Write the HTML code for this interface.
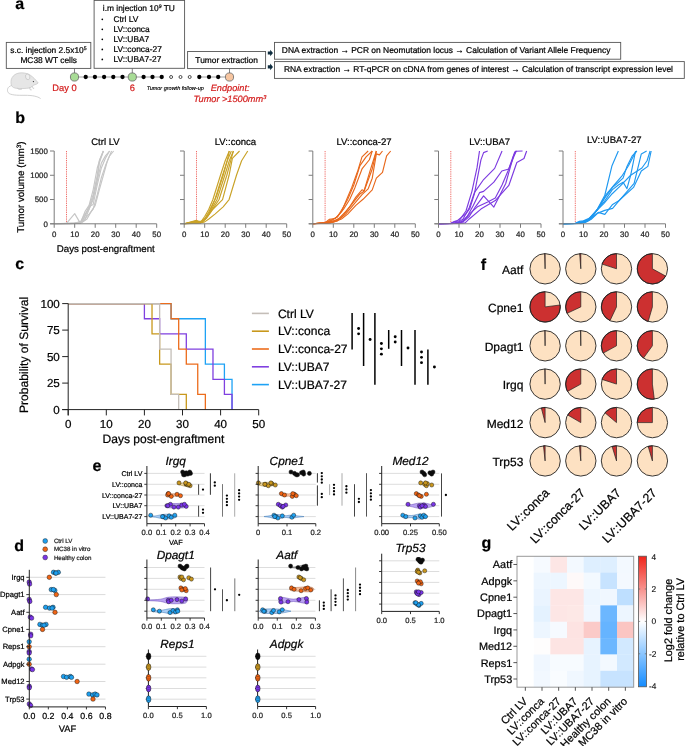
<!DOCTYPE html>
<html><head><meta charset="utf-8"><style>
html,body{margin:0;padding:0;background:#fff;width:685px;height:746px;overflow:hidden}
svg{display:block;will-change:transform}
text{font-family:"Liberation Sans", sans-serif;stroke-width:0.22px;stroke-linejoin:round;text-rendering:geometricPrecision}
</style></head><body>
<svg width="685" height="746" viewBox="0 0 685 746" font-family='"Liberation Sans", sans-serif' stroke="#000">
<text x="15.30" y="9.20" font-size="16" font-weight="bold" fill="#000" stroke="#000">a</text>
<rect x="6.30" y="42.40" width="84.50" height="26.00" fill="none" stroke="#555" stroke-width="0.9"/>
<text x="10.2" y="53" font-size="8.4">s.c. injection 2.5x10<tspan font-size="5.2" dy="-3.3">5</tspan></text>
<text x="48.70" y="62.80" font-size="8.4" text-anchor="middle" fill="#000" stroke="#000">MC38 WT cells</text>
<rect x="94.10" y="0.40" width="90.50" height="67.90" fill="none" stroke="#555" stroke-width="0.9"/>
<text x="102.8" y="11.4" font-size="8.4">i.m injection 10<tspan font-size="5.2" dy="-3.3">9</tspan><tspan dy="3.3"> TU</tspan></text>
<circle cx="102.30" cy="19.30" r="0.85" fill="#000" stroke="none" stroke-width="1"/>
<text x="113.40" y="21.90" font-size="8.4" fill="#000" stroke="#000">Ctrl LV</text>
<circle cx="102.30" cy="29.33" r="0.85" fill="#000" stroke="none" stroke-width="1"/>
<text x="113.40" y="31.93" font-size="8.4" fill="#000" stroke="#000">LV::conca</text>
<circle cx="102.30" cy="39.36" r="0.85" fill="#000" stroke="none" stroke-width="1"/>
<text x="113.40" y="41.96" font-size="8.4" fill="#000" stroke="#000">LV::UBA7</text>
<circle cx="102.30" cy="49.39" r="0.85" fill="#000" stroke="none" stroke-width="1"/>
<text x="113.40" y="51.99" font-size="8.4" fill="#000" stroke="#000">LV::conca-27</text>
<circle cx="102.30" cy="59.42" r="0.85" fill="#000" stroke="none" stroke-width="1"/>
<text x="113.40" y="62.02" font-size="8.4" fill="#000" stroke="#000">LV::UBA7-27</text>
<rect x="187.60" y="51.50" width="78.00" height="17.10" fill="none" stroke="#555" stroke-width="0.9"/>
<text x="226.60" y="62.60" font-size="8.4" text-anchor="middle" fill="#000" stroke="#000">Tumor extraction</text>
<path d="M267.8,51.4 L270.2,51.4 L270.2,49.7 L273,53.0 L270.2,56.3 L270.2,54.6 L267.8,54.6 Z" fill="#0e2c3e" stroke="none" stroke-width="1"/>
<path d="M267.8,65.30000000000001 L270.2,65.30000000000001 L270.2,63.60000000000001 L273,66.9 L270.2,70.2 L270.2,68.5 L267.8,68.5 Z" fill="#0e2c3e" stroke="none" stroke-width="1"/>
<rect x="274.50" y="42.40" width="346.20" height="16.80" fill="none" stroke="#555" stroke-width="0.9"/>
<text x="281.80" y="53.10" font-size="8.45" fill="#000" stroke="#000">DNA extraction → PCR on Neomutation locus → Calculation of Variant Allele Frequency</text>
<rect x="274.50" y="61.60" width="409.80" height="16.80" fill="none" stroke="#555" stroke-width="0.9"/>
<text x="283.90" y="71.70" font-size="8.45" fill="#000" stroke="#000">RNA extraction → RT-qPCR on cDNA from genes of interest → Calculation of transcript expression level</text>
<line x1="74.50" y1="77.00" x2="161.70" y2="77.00" stroke="#888" stroke-width="0.8"/>
<line x1="199.30" y1="77.00" x2="229.50" y2="77.00" stroke="#888" stroke-width="0.8"/>
<line x1="74.50" y1="68.30" x2="74.50" y2="77.00" stroke="#666" stroke-width="0.8"/>
<line x1="132.30" y1="68.30" x2="132.30" y2="77.00" stroke="#666" stroke-width="0.8"/>
<line x1="229.50" y1="68.60" x2="229.50" y2="77.00" stroke="#666" stroke-width="0.8"/>
<circle cx="85.70" cy="77.00" r="2.15" fill="#000" stroke="none" stroke-width="1"/>
<circle cx="94.90" cy="77.00" r="2.15" fill="#000" stroke="none" stroke-width="1"/>
<circle cx="104.10" cy="77.00" r="2.15" fill="#000" stroke="none" stroke-width="1"/>
<circle cx="113.30" cy="77.00" r="2.15" fill="#000" stroke="none" stroke-width="1"/>
<circle cx="122.50" cy="77.00" r="2.15" fill="#000" stroke="none" stroke-width="1"/>
<circle cx="143.60" cy="77.00" r="2.15" fill="#000" stroke="none" stroke-width="1"/>
<circle cx="152.50" cy="77.00" r="2.15" fill="#000" stroke="none" stroke-width="1"/>
<circle cx="161.70" cy="77.00" r="2.15" fill="#000" stroke="none" stroke-width="1"/>
<circle cx="199.30" cy="77.00" r="2.15" fill="#000" stroke="none" stroke-width="1"/>
<circle cx="209.00" cy="77.00" r="2.15" fill="#000" stroke="none" stroke-width="1"/>
<circle cx="218.20" cy="77.00" r="2.15" fill="#000" stroke="none" stroke-width="1"/>
<circle cx="171.10" cy="77.00" r="1.5" fill="#fff" stroke="#222" stroke-width="0.8"/>
<circle cx="180.50" cy="77.00" r="1.5" fill="#fff" stroke="#222" stroke-width="0.8"/>
<circle cx="189.70" cy="77.00" r="1.5" fill="#fff" stroke="#222" stroke-width="0.8"/>
<circle cx="74.50" cy="77.00" r="4.1" fill="#a8dc96" stroke="#666" stroke-width="0.8"/>
<circle cx="132.30" cy="77.00" r="4.1" fill="#a8dc96" stroke="#666" stroke-width="0.8"/>
<circle cx="229.50" cy="77.00" r="4.1" fill="#f6c5a0" stroke="#666" stroke-width="0.8"/>
<text x="64.50" y="91.30" font-size="9.3" text-anchor="middle" fill="#d42020" stroke="#d42020">Day 0</text>
<text x="132.40" y="91.30" font-size="9.3" text-anchor="middle" fill="#d42020" stroke="#d42020">6</text>
<text x="146.70" y="90.10" font-size="5.5" font-style="italic" fill="#000" stroke="#000" style="stroke-width:0.15px">Tumor growth follow-up</text>
<text x="210.70" y="91.40" font-size="9.2" font-style="italic" fill="#d42020" stroke="#d42020">Endpoint:</text>
<text x="193.6" y="102.2" font-size="9.2" font-style="italic" fill="#d42020" stroke="#d42020">Tumor &gt;1500mm<tspan font-size="5.6" dy="-3.5">3</tspan></text>
<g fill="#e6e6e6" stroke="#b4b4b4" stroke-width="0.5">
<path d="M11.6,85.6 C7.5,86.5 6.6,90.2 8.2,92.6 C10,95.2 17,95.4 25,95.3 C32,95.3 37.5,96.2 40.6,98.6" fill="none" stroke="#c4c4c4" stroke-width="0.8"/>
<path d="M11,83.5 C10.3,77.5 14.5,72.8 21.5,72.8 C26,72.8 28.5,74 30.5,75.3 C33,77 36,80 38.2,83 C36.8,84.3 34.8,84.8 33.2,85.3 C32.2,86.6 31.2,87.4 30,87.9 C26,88.6 20,88.8 15.5,88.2 C12.6,87.7 11.2,86 11,83.5 Z"/>
<ellipse cx="27.7" cy="76.8" rx="2.1" ry="2.9" fill="#efefef" transform="rotate(-15 27.7 76.8)"/>
<circle cx="33.4" cy="81.6" r="0.65" fill="#333" stroke="none"/>
<path d="M29.6,87.6 L30.4,90 L31.8,89.8 M32.2,86.2 L33,88.4 L34.2,88.2" fill="none" stroke="#aaa" stroke-width="0.5"/>
<path d="M17.5,88.3 C18.5,89.6 20.5,89.8 22,89" fill="none" stroke="#aaa" stroke-width="0.5"/>
</g>
<text x="15.20" y="123.30" font-size="16" font-weight="bold" fill="#000" stroke="#000">b</text>
<line x1="66.50" y1="151.00" x2="66.50" y2="223.80" stroke="#e8302a" stroke-width="0.8" stroke-dasharray="0.9,0.9"/>
<polyline points="54.20,223.80 66.50,223.31 74.70,213.61 79.83,222.34 82.90,219.92 89.05,206.81 93.15,194.68 97.25,175.27 99.30,160.71 103.40,151.00" fill="none" stroke="#c6c6c6" stroke-width="1.15" stroke-linejoin="round"/>
<polyline points="54.20,223.80 68.55,223.56 74.70,223.31 80.85,221.86 84.95,211.67 89.05,205.36 93.15,189.83 97.25,167.99 100.32,158.28 103.40,151.00" fill="none" stroke="#c6c6c6" stroke-width="1.15" stroke-linejoin="round"/>
<polyline points="54.20,223.80 74.70,223.31 80.85,221.37 84.95,214.09 89.05,209.24 93.15,199.53 97.25,180.12 101.35,163.13 105.45,155.85 109.55,151.00" fill="none" stroke="#c6c6c6" stroke-width="1.15" stroke-linejoin="round"/>
<polyline points="54.20,223.80 74.70,223.31 80.85,222.34 84.95,216.52 89.05,206.81 93.15,204.39 97.25,184.97 101.35,167.99 105.45,158.28 109.55,151.00" fill="none" stroke="#c6c6c6" stroke-width="1.15" stroke-linejoin="round"/>
<polyline points="54.20,223.80 78.80,222.83 82.90,220.89 89.05,214.09 93.15,209.24 97.25,194.68 101.35,177.69 105.45,165.56 109.55,155.85 113.65,151.00" fill="none" stroke="#c6c6c6" stroke-width="1.15" stroke-linejoin="round"/>
<polyline points="54.20,223.80 78.80,223.31 82.90,221.86 87.00,218.95 91.10,211.67 95.20,205.36 99.30,189.83 103.40,175.27 107.50,160.71 111.60,151.00" fill="none" stroke="#c6c6c6" stroke-width="1.15" stroke-linejoin="round"/>
<polyline points="54.20,223.80 80.85,223.07 84.95,219.92 89.05,209.24 93.15,197.11 97.25,180.12 99.30,163.13 103.40,151.00" fill="none" stroke="#c6c6c6" stroke-width="1.15" stroke-linejoin="round"/>
<line x1="54.20" y1="151.00" x2="54.20" y2="223.80" stroke="#7c7c7c" stroke-width="1"/>
<line x1="50.20" y1="223.80" x2="156.70" y2="223.80" stroke="#7c7c7c" stroke-width="1"/>
<line x1="50.00" y1="223.80" x2="54.20" y2="223.80" stroke="#7c7c7c" stroke-width="1"/>
<text x="47.90" y="226.60" font-size="7.9" text-anchor="end" fill="#222" stroke="#222">0</text>
<line x1="50.00" y1="199.53" x2="54.20" y2="199.53" stroke="#7c7c7c" stroke-width="1"/>
<text x="47.90" y="202.33" font-size="7.9" text-anchor="end" fill="#222" stroke="#222">500</text>
<line x1="50.00" y1="175.27" x2="54.20" y2="175.27" stroke="#7c7c7c" stroke-width="1"/>
<text x="47.90" y="178.07" font-size="7.9" text-anchor="end" fill="#222" stroke="#222">1000</text>
<line x1="50.00" y1="151.00" x2="54.20" y2="151.00" stroke="#7c7c7c" stroke-width="1"/>
<text x="47.90" y="153.80" font-size="7.9" text-anchor="end" fill="#222" stroke="#222">1500</text>
<line x1="54.20" y1="223.80" x2="54.20" y2="227.80" stroke="#7c7c7c" stroke-width="1"/>
<text x="54.20" y="237.00" font-size="7.9" text-anchor="middle" fill="#222" stroke="#222">0</text>
<line x1="74.70" y1="223.80" x2="74.70" y2="227.80" stroke="#7c7c7c" stroke-width="1"/>
<text x="74.70" y="237.00" font-size="7.9" text-anchor="middle" fill="#222" stroke="#222">10</text>
<line x1="95.20" y1="223.80" x2="95.20" y2="227.80" stroke="#7c7c7c" stroke-width="1"/>
<text x="95.20" y="237.00" font-size="7.9" text-anchor="middle" fill="#222" stroke="#222">20</text>
<line x1="115.70" y1="223.80" x2="115.70" y2="227.80" stroke="#7c7c7c" stroke-width="1"/>
<text x="115.70" y="237.00" font-size="7.9" text-anchor="middle" fill="#222" stroke="#222">30</text>
<line x1="136.20" y1="223.80" x2="136.20" y2="227.80" stroke="#7c7c7c" stroke-width="1"/>
<text x="136.20" y="237.00" font-size="7.9" text-anchor="middle" fill="#222" stroke="#222">40</text>
<line x1="156.70" y1="223.80" x2="156.70" y2="227.80" stroke="#7c7c7c" stroke-width="1"/>
<text x="156.70" y="237.00" font-size="7.9" text-anchor="middle" fill="#222" stroke="#222">50</text>
<text x="105.45" y="144.70" font-size="9.55" text-anchor="middle" fill="#000" stroke="#000">Ctrl LV</text>
<line x1="196.50" y1="151.00" x2="196.50" y2="223.80" stroke="#e8302a" stroke-width="0.8" stroke-dasharray="0.9,0.9"/>
<polyline points="184.20,223.80 196.50,220.40 200.60,222.34 204.70,216.52 208.80,209.24 212.90,199.53 220.48,175.27 225.20,160.71 229.30,151.00" fill="none" stroke="#c9a227" stroke-width="1.15" stroke-linejoin="round"/>
<polyline points="184.20,223.80 196.50,220.89 200.60,222.83 204.70,218.95 208.80,211.67 214.95,199.53 222.53,175.27 227.25,160.71 231.35,151.00" fill="none" stroke="#c9a227" stroke-width="1.15" stroke-linejoin="round"/>
<polyline points="184.20,223.80 196.50,221.86 202.65,221.86 208.80,214.09 217.00,199.53 224.79,175.27 229.30,160.71 233.40,151.00" fill="none" stroke="#c9a227" stroke-width="1.15" stroke-linejoin="round"/>
<polyline points="184.20,223.80 198.55,222.34 204.70,219.92 210.85,211.67 219.05,199.53 226.84,175.27 231.35,158.28 233.40,151.00" fill="none" stroke="#c9a227" stroke-width="1.15" stroke-linejoin="round"/>
<polyline points="184.20,223.80 200.60,222.83 206.75,217.98 212.90,209.24 222.53,199.53 229.09,175.27 232.38,158.28 239.55,151.00" fill="none" stroke="#c9a227" stroke-width="1.15" stroke-linejoin="round"/>
<polyline points="184.20,223.80 200.60,223.07 204.70,221.86 208.80,218.95 214.95,214.09 223.15,206.81 229.09,199.53 236.47,175.27 241.60,160.71 247.75,151.00" fill="none" stroke="#c9a227" stroke-width="1.15" stroke-linejoin="round"/>
<polyline points="184.20,223.80 196.50,221.37 202.65,221.37 208.80,214.09 212.90,204.39 217.00,194.68 223.15,175.27 227.25,160.71 229.30,151.00" fill="none" stroke="#c9a227" stroke-width="1.15" stroke-linejoin="round"/>
<line x1="184.20" y1="151.00" x2="184.20" y2="223.80" stroke="#7c7c7c" stroke-width="1"/>
<line x1="180.20" y1="223.80" x2="286.70" y2="223.80" stroke="#7c7c7c" stroke-width="1"/>
<line x1="180.00" y1="223.80" x2="184.20" y2="223.80" stroke="#7c7c7c" stroke-width="1"/>
<line x1="180.00" y1="199.53" x2="184.20" y2="199.53" stroke="#7c7c7c" stroke-width="1"/>
<line x1="180.00" y1="175.27" x2="184.20" y2="175.27" stroke="#7c7c7c" stroke-width="1"/>
<line x1="180.00" y1="151.00" x2="184.20" y2="151.00" stroke="#7c7c7c" stroke-width="1"/>
<line x1="184.20" y1="223.80" x2="184.20" y2="227.80" stroke="#7c7c7c" stroke-width="1"/>
<text x="184.20" y="237.00" font-size="7.9" text-anchor="middle" fill="#222" stroke="#222">0</text>
<line x1="204.70" y1="223.80" x2="204.70" y2="227.80" stroke="#7c7c7c" stroke-width="1"/>
<text x="204.70" y="237.00" font-size="7.9" text-anchor="middle" fill="#222" stroke="#222">10</text>
<line x1="225.20" y1="223.80" x2="225.20" y2="227.80" stroke="#7c7c7c" stroke-width="1"/>
<text x="225.20" y="237.00" font-size="7.9" text-anchor="middle" fill="#222" stroke="#222">20</text>
<line x1="245.70" y1="223.80" x2="245.70" y2="227.80" stroke="#7c7c7c" stroke-width="1"/>
<text x="245.70" y="237.00" font-size="7.9" text-anchor="middle" fill="#222" stroke="#222">30</text>
<line x1="266.20" y1="223.80" x2="266.20" y2="227.80" stroke="#7c7c7c" stroke-width="1"/>
<text x="266.20" y="237.00" font-size="7.9" text-anchor="middle" fill="#222" stroke="#222">40</text>
<line x1="286.70" y1="223.80" x2="286.70" y2="227.80" stroke="#7c7c7c" stroke-width="1"/>
<text x="286.70" y="237.00" font-size="7.9" text-anchor="middle" fill="#222" stroke="#222">50</text>
<text x="235.45" y="144.70" font-size="9.55" text-anchor="middle" fill="#000" stroke="#000">LV::conca</text>
<line x1="325.10" y1="151.00" x2="325.10" y2="223.80" stroke="#e8302a" stroke-width="0.8" stroke-dasharray="0.9,0.9"/>
<polyline points="312.80,223.80 325.10,222.59 329.20,219.43 335.35,218.46 341.50,211.67 345.60,201.96 351.75,187.40 357.90,170.41 362.00,156.82 368.15,151.00" fill="none" stroke="#e8681c" stroke-width="1.15" stroke-linejoin="round"/>
<polyline points="312.80,223.80 325.10,222.59 331.25,220.89 337.40,216.52 343.55,209.24 349.70,199.53 355.03,187.40 362.00,168.96 369.38,159.74 372.25,151.00" fill="none" stroke="#e8681c" stroke-width="1.15" stroke-linejoin="round"/>
<polyline points="312.80,223.80 325.10,222.83 333.30,221.86 339.45,217.98 345.60,211.67 351.75,204.39 359.95,193.95 364.05,191.28 372.25,168.96 376.35,151.00" fill="none" stroke="#e8681c" stroke-width="1.15" stroke-linejoin="round"/>
<polyline points="312.80,223.80 327.15,222.83 333.30,220.89 339.45,218.95 345.60,214.09 353.80,204.39 362.00,194.68 368.15,188.86 372.25,178.18 376.35,153.91 379.43,154.88 382.50,151.00" fill="none" stroke="#e8681c" stroke-width="1.15" stroke-linejoin="round"/>
<polyline points="312.80,223.80 329.20,222.83 335.35,221.37 341.50,218.95 347.65,214.09 355.85,205.36 363.02,199.29 372.25,189.83 376.35,178.18 382.50,172.35 386.60,155.85 390.70,151.00" fill="none" stroke="#e8681c" stroke-width="1.15" stroke-linejoin="round"/>
<polyline points="312.80,223.80 325.10,222.83 331.25,219.92 337.40,217.01 343.55,206.81 347.65,199.53 353.80,184.97 359.95,165.56 366.10,156.82 372.25,151.00" fill="none" stroke="#e8681c" stroke-width="1.15" stroke-linejoin="round"/>
<polyline points="312.80,223.80 329.20,223.07 337.40,220.89 343.55,215.06 349.70,206.81 355.85,197.11 362.00,189.83 364.05,190.80 370.20,170.41 376.35,151.00" fill="none" stroke="#e8681c" stroke-width="1.15" stroke-linejoin="round"/>
<line x1="312.80" y1="151.00" x2="312.80" y2="223.80" stroke="#7c7c7c" stroke-width="1"/>
<line x1="308.80" y1="223.80" x2="415.30" y2="223.80" stroke="#7c7c7c" stroke-width="1"/>
<line x1="308.60" y1="223.80" x2="312.80" y2="223.80" stroke="#7c7c7c" stroke-width="1"/>
<line x1="308.60" y1="199.53" x2="312.80" y2="199.53" stroke="#7c7c7c" stroke-width="1"/>
<line x1="308.60" y1="175.27" x2="312.80" y2="175.27" stroke="#7c7c7c" stroke-width="1"/>
<line x1="308.60" y1="151.00" x2="312.80" y2="151.00" stroke="#7c7c7c" stroke-width="1"/>
<line x1="312.80" y1="223.80" x2="312.80" y2="227.80" stroke="#7c7c7c" stroke-width="1"/>
<text x="312.80" y="237.00" font-size="7.9" text-anchor="middle" fill="#222" stroke="#222">0</text>
<line x1="333.30" y1="223.80" x2="333.30" y2="227.80" stroke="#7c7c7c" stroke-width="1"/>
<text x="333.30" y="237.00" font-size="7.9" text-anchor="middle" fill="#222" stroke="#222">10</text>
<line x1="353.80" y1="223.80" x2="353.80" y2="227.80" stroke="#7c7c7c" stroke-width="1"/>
<text x="353.80" y="237.00" font-size="7.9" text-anchor="middle" fill="#222" stroke="#222">20</text>
<line x1="374.30" y1="223.80" x2="374.30" y2="227.80" stroke="#7c7c7c" stroke-width="1"/>
<text x="374.30" y="237.00" font-size="7.9" text-anchor="middle" fill="#222" stroke="#222">30</text>
<line x1="394.80" y1="223.80" x2="394.80" y2="227.80" stroke="#7c7c7c" stroke-width="1"/>
<text x="394.80" y="237.00" font-size="7.9" text-anchor="middle" fill="#222" stroke="#222">40</text>
<line x1="415.30" y1="223.80" x2="415.30" y2="227.80" stroke="#7c7c7c" stroke-width="1"/>
<text x="415.30" y="237.00" font-size="7.9" text-anchor="middle" fill="#222" stroke="#222">50</text>
<text x="364.05" y="144.70" font-size="9.55" text-anchor="middle" fill="#000" stroke="#000">LV::conca-27</text>
<line x1="450.80" y1="151.00" x2="450.80" y2="223.80" stroke="#e8302a" stroke-width="0.8" stroke-dasharray="0.9,0.9"/>
<polyline points="438.50,223.80 450.80,223.31 454.90,221.37 459.00,220.89 465.97,211.04 471.92,191.33 477.04,167.70 479.50,151.00" fill="none" stroke="#7c3ae0" stroke-width="1.15" stroke-linejoin="round"/>
<polyline points="438.50,223.80 450.80,223.31 456.95,220.89 465.97,213.71 469.87,208.41 474.38,193.95 480.94,159.83 483.60,152.60 487.70,151.00" fill="none" stroke="#7c3ae0" stroke-width="1.15" stroke-linejoin="round"/>
<polyline points="438.50,223.80 452.85,223.31 459.00,221.86 463.10,218.95 469.25,207.78 474.38,192.64 483.60,179.54 494.67,168.37 502.05,151.00" fill="none" stroke="#7c3ae0" stroke-width="1.15" stroke-linejoin="round"/>
<polyline points="438.50,223.80 454.90,223.31 461.05,222.34 467.20,216.52 473.14,205.79 479.50,192.64 483.60,191.33 493.85,182.16 501.84,171.00 508.81,169.01 515.99,151.24 522.55,151.00" fill="none" stroke="#7c3ae0" stroke-width="1.15" stroke-linejoin="round"/>
<polyline points="438.50,223.80 454.90,223.31 463.10,221.86 469.25,216.52 475.40,206.81 483.60,195.94 493.85,207.10 505.74,183.47 513.53,155.85 516.40,151.00" fill="none" stroke="#7c3ae0" stroke-width="1.15" stroke-linejoin="round"/>
<polyline points="438.50,223.80 456.95,223.31 465.15,222.83 469.25,218.95 480.94,209.09 495.28,200.55 508.81,185.46 516.81,162.45 523.99,158.47 526.65,151.00" fill="none" stroke="#7c3ae0" stroke-width="1.15" stroke-linejoin="round"/>
<polyline points="438.50,223.80 454.90,223.31 463.10,221.37 469.25,214.09 477.45,206.81 487.70,201.96 495.28,198.08 502.05,184.97 508.20,170.41 514.76,151.97 516.40,151.00" fill="none" stroke="#7c3ae0" stroke-width="1.15" stroke-linejoin="round"/>
<line x1="438.50" y1="151.00" x2="438.50" y2="223.80" stroke="#7c7c7c" stroke-width="1"/>
<line x1="434.50" y1="223.80" x2="541.00" y2="223.80" stroke="#7c7c7c" stroke-width="1"/>
<line x1="434.30" y1="223.80" x2="438.50" y2="223.80" stroke="#7c7c7c" stroke-width="1"/>
<line x1="434.30" y1="199.53" x2="438.50" y2="199.53" stroke="#7c7c7c" stroke-width="1"/>
<line x1="434.30" y1="175.27" x2="438.50" y2="175.27" stroke="#7c7c7c" stroke-width="1"/>
<line x1="434.30" y1="151.00" x2="438.50" y2="151.00" stroke="#7c7c7c" stroke-width="1"/>
<line x1="438.50" y1="223.80" x2="438.50" y2="227.80" stroke="#7c7c7c" stroke-width="1"/>
<text x="438.50" y="237.00" font-size="7.9" text-anchor="middle" fill="#222" stroke="#222">0</text>
<line x1="459.00" y1="223.80" x2="459.00" y2="227.80" stroke="#7c7c7c" stroke-width="1"/>
<text x="459.00" y="237.00" font-size="7.9" text-anchor="middle" fill="#222" stroke="#222">10</text>
<line x1="479.50" y1="223.80" x2="479.50" y2="227.80" stroke="#7c7c7c" stroke-width="1"/>
<text x="479.50" y="237.00" font-size="7.9" text-anchor="middle" fill="#222" stroke="#222">20</text>
<line x1="500.00" y1="223.80" x2="500.00" y2="227.80" stroke="#7c7c7c" stroke-width="1"/>
<text x="500.00" y="237.00" font-size="7.9" text-anchor="middle" fill="#222" stroke="#222">30</text>
<line x1="520.50" y1="223.80" x2="520.50" y2="227.80" stroke="#7c7c7c" stroke-width="1"/>
<text x="520.50" y="237.00" font-size="7.9" text-anchor="middle" fill="#222" stroke="#222">40</text>
<line x1="541.00" y1="223.80" x2="541.00" y2="227.80" stroke="#7c7c7c" stroke-width="1"/>
<text x="541.00" y="237.00" font-size="7.9" text-anchor="middle" fill="#222" stroke="#222">50</text>
<text x="489.75" y="144.70" font-size="9.55" text-anchor="middle" fill="#000" stroke="#000">LV::UBA7</text>
<line x1="575.30" y1="151.00" x2="575.30" y2="223.80" stroke="#e8302a" stroke-width="0.8" stroke-dasharray="0.9,0.9"/>
<polyline points="563.00,223.80 575.30,223.31 579.40,221.37 583.50,220.89 589.65,217.98 597.03,209.73 604.82,195.26 612.00,165.71 618.35,151.00" fill="none" stroke="#1e98f0" stroke-width="1.15" stroke-linejoin="round"/>
<polyline points="563.00,223.80 575.30,223.31 581.45,221.86 587.60,219.92 593.75,214.09 597.85,209.24 604.82,197.93 612.61,187.40 617.94,182.79 623.07,178.18 626.96,166.39 632.29,155.85 636.80,151.00" fill="none" stroke="#1e98f0" stroke-width="1.15" stroke-linejoin="round"/>
<polyline points="563.00,223.80 577.35,223.31 583.50,222.34 589.65,218.95 595.80,211.67 604.00,201.96 612.20,189.83 618.35,184.97 623.07,182.16 626.96,188.71 630.65,175.27 635.57,151.00" fill="none" stroke="#1e98f0" stroke-width="1.15" stroke-linejoin="round"/>
<polyline points="563.00,223.80 577.35,223.31 583.50,221.86 589.65,219.92 598.26,212.39 604.82,214.34 612.61,204.48 619.17,200.55 634.13,183.47 641.31,153.91 646.64,151.00" fill="none" stroke="#1e98f0" stroke-width="1.15" stroke-linejoin="round"/>
<polyline points="563.00,223.80 579.40,223.31 585.55,222.34 591.70,218.95 597.85,213.12 604.82,210.40 612.61,208.41 620.40,199.24 633.52,187.40 641.31,171.00 647.87,166.39 651.15,151.00" fill="none" stroke="#1e98f0" stroke-width="1.15" stroke-linejoin="round"/>
<polyline points="563.00,223.80 577.35,223.31 585.55,221.86 591.70,216.52 597.85,209.24 604.00,203.42 612.20,193.71 620.40,185.94 630.65,175.27 641.92,167.99 647.05,160.71 650.12,151.00" fill="none" stroke="#1e98f0" stroke-width="1.15" stroke-linejoin="round"/>
<polyline points="563.00,223.80 579.40,223.31 587.60,221.37 593.75,215.06 599.90,205.36 606.05,194.68 614.25,184.97 622.45,175.27 628.60,165.56 634.75,153.43 636.80,151.00" fill="none" stroke="#1e98f0" stroke-width="1.15" stroke-linejoin="round"/>
<line x1="563.00" y1="151.00" x2="563.00" y2="223.80" stroke="#7c7c7c" stroke-width="1"/>
<line x1="559.00" y1="223.80" x2="665.50" y2="223.80" stroke="#7c7c7c" stroke-width="1"/>
<line x1="558.80" y1="223.80" x2="563.00" y2="223.80" stroke="#7c7c7c" stroke-width="1"/>
<line x1="558.80" y1="199.53" x2="563.00" y2="199.53" stroke="#7c7c7c" stroke-width="1"/>
<line x1="558.80" y1="175.27" x2="563.00" y2="175.27" stroke="#7c7c7c" stroke-width="1"/>
<line x1="558.80" y1="151.00" x2="563.00" y2="151.00" stroke="#7c7c7c" stroke-width="1"/>
<line x1="563.00" y1="223.80" x2="563.00" y2="227.80" stroke="#7c7c7c" stroke-width="1"/>
<text x="563.00" y="237.00" font-size="7.9" text-anchor="middle" fill="#222" stroke="#222">0</text>
<line x1="583.50" y1="223.80" x2="583.50" y2="227.80" stroke="#7c7c7c" stroke-width="1"/>
<text x="583.50" y="237.00" font-size="7.9" text-anchor="middle" fill="#222" stroke="#222">10</text>
<line x1="604.00" y1="223.80" x2="604.00" y2="227.80" stroke="#7c7c7c" stroke-width="1"/>
<text x="604.00" y="237.00" font-size="7.9" text-anchor="middle" fill="#222" stroke="#222">20</text>
<line x1="624.50" y1="223.80" x2="624.50" y2="227.80" stroke="#7c7c7c" stroke-width="1"/>
<text x="624.50" y="237.00" font-size="7.9" text-anchor="middle" fill="#222" stroke="#222">30</text>
<line x1="645.00" y1="223.80" x2="645.00" y2="227.80" stroke="#7c7c7c" stroke-width="1"/>
<text x="645.00" y="237.00" font-size="7.9" text-anchor="middle" fill="#222" stroke="#222">40</text>
<line x1="665.50" y1="223.80" x2="665.50" y2="227.80" stroke="#7c7c7c" stroke-width="1"/>
<text x="665.50" y="237.00" font-size="7.9" text-anchor="middle" fill="#222" stroke="#222">50</text>
<text x="614.25" y="142.60" font-size="9.55" text-anchor="middle" fill="#000" stroke="#000">LV::UBA7-27</text>
<text transform="translate(24.4,187.1) rotate(-90)" text-anchor="middle" font-size="9.8">Tumor volume (mm<tspan font-size="6.4" dy="-3.6">3</tspan><tspan dy="3.6">)</tspan></text>
<text x="56.80" y="251.90" font-size="9.7" fill="#000" stroke="#000">Days post-engraftment</text>
<text x="15.30" y="269.40" font-size="16" font-weight="bold" fill="#000" stroke="#000">c</text>
<polyline points="68.20,303.60 171.07,303.60 171.07,318.74 205.36,318.74 205.36,364.17 224.41,364.17 224.41,379.31 232.03,379.31 232.03,409.60" fill="none" stroke="#1ea2f5" stroke-width="1.3" stroke-linejoin="miter"/>
<polyline points="68.20,303.60 144.40,303.60 144.40,318.74 159.64,318.74 159.64,333.89 186.31,333.89 186.31,349.03 212.98,349.03 212.98,379.31 224.41,379.31 224.41,394.46 232.03,394.46 232.03,409.60" fill="none" stroke="#8040e0" stroke-width="1.3" stroke-linejoin="miter"/>
<polyline points="68.20,303.60 171.07,303.60 171.07,318.74 178.69,318.74 178.69,349.03 186.31,349.03 186.31,364.17 197.74,364.17 197.74,394.46 205.36,394.46 205.36,409.60" fill="none" stroke="#ec6c1c" stroke-width="1.3" stroke-linejoin="miter"/>
<polyline points="68.20,303.60 152.02,303.60 152.02,333.89 159.64,333.89 159.64,364.17 171.07,364.17 171.07,394.46 186.31,394.46 186.31,409.60" fill="none" stroke="#c8981c" stroke-width="1.3" stroke-linejoin="miter"/>
<polyline points="68.20,303.60 159.64,303.60 159.64,349.03 171.07,349.03 171.07,394.46 178.69,394.46 178.69,409.60" fill="none" stroke="#c4beb8" stroke-width="1.3" stroke-linejoin="miter"/>
<line x1="68.20" y1="303.60" x2="68.20" y2="415.40" stroke="#222" stroke-width="1"/>
<line x1="62.20" y1="409.60" x2="258.70" y2="409.60" stroke="#222" stroke-width="1"/>
<line x1="62.20" y1="409.60" x2="68.20" y2="409.60" stroke="#222" stroke-width="1"/>
<text x="59.80" y="413.70" font-size="11.6" text-anchor="end" fill="#000" stroke="#000">0</text>
<line x1="62.20" y1="383.10" x2="68.20" y2="383.10" stroke="#222" stroke-width="1"/>
<text x="59.80" y="387.20" font-size="11.6" text-anchor="end" fill="#000" stroke="#000">25</text>
<line x1="62.20" y1="356.60" x2="68.20" y2="356.60" stroke="#222" stroke-width="1"/>
<text x="59.80" y="360.70" font-size="11.6" text-anchor="end" fill="#000" stroke="#000">50</text>
<line x1="62.20" y1="330.10" x2="68.20" y2="330.10" stroke="#222" stroke-width="1"/>
<text x="59.80" y="334.20" font-size="11.6" text-anchor="end" fill="#000" stroke="#000">75</text>
<line x1="62.20" y1="303.60" x2="68.20" y2="303.60" stroke="#222" stroke-width="1"/>
<text x="59.80" y="307.70" font-size="11.6" text-anchor="end" fill="#000" stroke="#000">100</text>
<line x1="68.20" y1="409.60" x2="68.20" y2="415.40" stroke="#222" stroke-width="1"/>
<text x="68.20" y="428.40" font-size="11.6" text-anchor="middle" fill="#000" stroke="#000">0</text>
<line x1="106.30" y1="409.60" x2="106.30" y2="415.40" stroke="#222" stroke-width="1"/>
<text x="106.30" y="428.40" font-size="11.6" text-anchor="middle" fill="#000" stroke="#000">10</text>
<line x1="144.40" y1="409.60" x2="144.40" y2="415.40" stroke="#222" stroke-width="1"/>
<text x="144.40" y="428.40" font-size="11.6" text-anchor="middle" fill="#000" stroke="#000">20</text>
<line x1="182.50" y1="409.60" x2="182.50" y2="415.40" stroke="#222" stroke-width="1"/>
<text x="182.50" y="428.40" font-size="11.6" text-anchor="middle" fill="#000" stroke="#000">30</text>
<line x1="220.60" y1="409.60" x2="220.60" y2="415.40" stroke="#222" stroke-width="1"/>
<text x="220.60" y="428.40" font-size="11.6" text-anchor="middle" fill="#000" stroke="#000">40</text>
<line x1="258.70" y1="409.60" x2="258.70" y2="415.40" stroke="#222" stroke-width="1"/>
<text x="258.70" y="428.40" font-size="11.6" text-anchor="middle" fill="#000" stroke="#000">50</text>
<text x="102.50" y="442.70" font-size="12.05" fill="#000" stroke="#000">Days post-engraftment</text>
<text transform="translate(27.6,354.9) rotate(-90)" text-anchor="middle" font-size="12.1">Probability of Survival</text>
<line x1="251.90" y1="313.40" x2="268.90" y2="313.40" stroke="#c4beb8" stroke-width="1.6"/>
<text x="277.90" y="317.60" font-size="12.05" fill="#000" stroke="#000">Ctrl LV</text>
<line x1="251.90" y1="331.20" x2="268.90" y2="331.20" stroke="#c8981c" stroke-width="1.6"/>
<text x="277.90" y="335.40" font-size="12.05" fill="#000" stroke="#000">LV::conca</text>
<line x1="251.90" y1="349.00" x2="268.90" y2="349.00" stroke="#ec6c1c" stroke-width="1.6"/>
<text x="277.90" y="353.20" font-size="12.05" fill="#000" stroke="#000">LV::conca-27</text>
<line x1="251.90" y1="366.80" x2="268.90" y2="366.80" stroke="#8040e0" stroke-width="1.6"/>
<text x="277.90" y="371.00" font-size="12.05" fill="#000" stroke="#000">LV::UBA7</text>
<line x1="251.90" y1="384.60" x2="268.90" y2="384.60" stroke="#1ea2f5" stroke-width="1.6"/>
<text x="277.90" y="388.80" font-size="12.05" fill="#000" stroke="#000">LV::UBA7-27</text>
<line x1="352.10" y1="313.00" x2="352.10" y2="349.40" stroke="#000" stroke-width="1.5"/>
<circle cx="358.60" cy="328.55" r="1.45" fill="#000" stroke="none" stroke-width="1"/>
<circle cx="358.60" cy="333.85" r="1.45" fill="#000" stroke="none" stroke-width="1"/>
<line x1="363.60" y1="313.00" x2="363.60" y2="366.00" stroke="#000" stroke-width="1.5"/>
<circle cx="370.10" cy="339.50" r="1.45" fill="#000" stroke="none" stroke-width="1"/>
<line x1="374.90" y1="313.00" x2="374.90" y2="384.70" stroke="#000" stroke-width="1.5"/>
<circle cx="381.40" cy="343.55" r="1.45" fill="#000" stroke="none" stroke-width="1"/>
<circle cx="381.40" cy="348.85" r="1.45" fill="#000" stroke="none" stroke-width="1"/>
<circle cx="381.40" cy="354.15" r="1.45" fill="#000" stroke="none" stroke-width="1"/>
<line x1="388.70" y1="330.00" x2="388.70" y2="348.80" stroke="#000" stroke-width="1.5"/>
<circle cx="395.20" cy="336.75" r="1.45" fill="#000" stroke="none" stroke-width="1"/>
<circle cx="395.20" cy="342.05" r="1.45" fill="#000" stroke="none" stroke-width="1"/>
<line x1="401.50" y1="330.00" x2="401.50" y2="366.00" stroke="#000" stroke-width="1.5"/>
<circle cx="408.00" cy="348.00" r="1.45" fill="#000" stroke="none" stroke-width="1"/>
<line x1="415.00" y1="330.00" x2="415.00" y2="384.70" stroke="#000" stroke-width="1.5"/>
<circle cx="421.50" cy="352.05" r="1.45" fill="#000" stroke="none" stroke-width="1"/>
<circle cx="421.50" cy="357.35" r="1.45" fill="#000" stroke="none" stroke-width="1"/>
<circle cx="421.50" cy="362.65" r="1.45" fill="#000" stroke="none" stroke-width="1"/>
<line x1="427.90" y1="349.40" x2="427.90" y2="384.70" stroke="#000" stroke-width="1.5"/>
<circle cx="434.40" cy="367.05" r="1.45" fill="#000" stroke="none" stroke-width="1"/>
<text x="480.70" y="269.50" font-size="16" font-weight="bold" fill="#000" stroke="#000">f</text>
<text x="523.40" y="273.80" font-size="12" text-anchor="end" fill="#000" stroke="#000">Aatf</text>
<circle cx="545.10" cy="268.80" r="15.2" fill="#fde1c2" stroke="none" stroke-width="1"/>
<path d="M545.10,268.80 L545.10,253.60 A15.2,15.2 0 0 0 544.62,253.61 Z" fill="#cc3030" stroke="#222" stroke-width="0.7" stroke-linejoin="round"/>
<circle cx="545.10" cy="268.80" r="15.2" fill="none" stroke="#222" stroke-width="0.9"/>
<circle cx="580.80" cy="268.80" r="15.2" fill="#fde1c2" stroke="none" stroke-width="1"/>
<path d="M580.80,268.80 L580.80,253.60 A15.2,15.2 0 0 0 579.66,253.64 Z" fill="#cc3030" stroke="#222" stroke-width="0.7" stroke-linejoin="round"/>
<circle cx="580.80" cy="268.80" r="15.2" fill="none" stroke="#222" stroke-width="0.9"/>
<circle cx="616.50" cy="268.80" r="15.2" fill="#fde1c2" stroke="none" stroke-width="1"/>
<path d="M616.50,268.80 L616.50,253.60 A15.2,15.2 0 0 0 602.04,264.10 Z" fill="#cc3030" stroke="#222" stroke-width="0.7" stroke-linejoin="round"/>
<circle cx="616.50" cy="268.80" r="15.2" fill="none" stroke="#222" stroke-width="0.9"/>
<circle cx="652.40" cy="268.80" r="15.2" fill="#fde1c2" stroke="none" stroke-width="1"/>
<path d="M652.40,268.80 L652.40,253.60 A15.2,15.2 0 1 0 665.72,276.12 Z" fill="#cc3030" stroke="#222" stroke-width="0.7" stroke-linejoin="round"/>
<circle cx="652.40" cy="268.80" r="15.2" fill="none" stroke="#222" stroke-width="0.9"/>
<text x="523.40" y="311.90" font-size="12" text-anchor="end" fill="#000" stroke="#000">Cpne1</text>
<circle cx="545.10" cy="306.90" r="15.2" fill="#fde1c2" stroke="none" stroke-width="1"/>
<path d="M545.10,306.90 L545.10,291.70 A15.2,15.2 0 1 0 560.18,304.99 Z" fill="#cc3030" stroke="#222" stroke-width="0.7" stroke-linejoin="round"/>
<circle cx="545.10" cy="306.90" r="15.2" fill="none" stroke="#222" stroke-width="0.9"/>
<circle cx="580.80" cy="306.90" r="15.2" fill="#fde1c2" stroke="none" stroke-width="1"/>
<path d="M580.80,306.90 L580.80,291.70 A15.2,15.2 0 0 0 567.05,313.37 Z" fill="#cc3030" stroke="#222" stroke-width="0.7" stroke-linejoin="round"/>
<circle cx="580.80" cy="306.90" r="15.2" fill="none" stroke="#222" stroke-width="0.9"/>
<circle cx="616.50" cy="306.90" r="15.2" fill="#fde1c2" stroke="none" stroke-width="1"/>
<path d="M616.50,306.90 L616.50,291.70 A15.2,15.2 0 0 0 610.03,320.65 Z" fill="#cc3030" stroke="#222" stroke-width="0.7" stroke-linejoin="round"/>
<circle cx="616.50" cy="306.90" r="15.2" fill="none" stroke="#222" stroke-width="0.9"/>
<circle cx="652.40" cy="306.90" r="15.2" fill="#fde1c2" stroke="none" stroke-width="1"/>
<path d="M652.40,306.90 L652.40,291.70 A15.2,15.2 0 0 0 648.16,321.50 Z" fill="#cc3030" stroke="#222" stroke-width="0.7" stroke-linejoin="round"/>
<circle cx="652.40" cy="306.90" r="15.2" fill="none" stroke="#222" stroke-width="0.9"/>
<text x="523.40" y="350.80" font-size="12" text-anchor="end" fill="#000" stroke="#000">Dpagt1</text>
<circle cx="545.10" cy="345.80" r="15.2" fill="#fde1c2" stroke="none" stroke-width="1"/>
<path d="M545.10,345.80 L545.10,330.60 A15.2,15.2 0 0 0 544.81,330.60 Z" fill="#cc3030" stroke="#222" stroke-width="0.7" stroke-linejoin="round"/>
<circle cx="545.10" cy="345.80" r="15.2" fill="none" stroke="#222" stroke-width="0.9"/>
<circle cx="580.80" cy="345.80" r="15.2" fill="#fde1c2" stroke="none" stroke-width="1"/>
<path d="M580.80,345.80 L580.80,330.60 A15.2,15.2 0 0 0 580.51,330.60 Z" fill="#cc3030" stroke="#222" stroke-width="0.7" stroke-linejoin="round"/>
<circle cx="580.80" cy="345.80" r="15.2" fill="none" stroke="#222" stroke-width="0.9"/>
<circle cx="616.50" cy="345.80" r="15.2" fill="#fde1c2" stroke="none" stroke-width="1"/>
<path d="M616.50,345.80 L616.50,330.60 A15.2,15.2 0 0 0 603.18,353.12 Z" fill="#cc3030" stroke="#222" stroke-width="0.7" stroke-linejoin="round"/>
<circle cx="616.50" cy="345.80" r="15.2" fill="none" stroke="#222" stroke-width="0.9"/>
<circle cx="652.40" cy="345.80" r="15.2" fill="#fde1c2" stroke="none" stroke-width="1"/>
<path d="M652.40,345.80 L652.40,330.60 A15.2,15.2 0 0 0 643.47,358.10 Z" fill="#cc3030" stroke="#222" stroke-width="0.7" stroke-linejoin="round"/>
<circle cx="652.40" cy="345.80" r="15.2" fill="none" stroke="#222" stroke-width="0.9"/>
<text x="523.40" y="389.10" font-size="12" text-anchor="end" fill="#000" stroke="#000">Irgq</text>
<circle cx="545.10" cy="384.10" r="15.2" fill="#fde1c2" stroke="none" stroke-width="1"/>
<path d="M545.10,384.10 L545.10,368.90 A15.2,15.2 0 0 0 544.81,368.90 Z" fill="#cc3030" stroke="#222" stroke-width="0.7" stroke-linejoin="round"/>
<circle cx="545.10" cy="384.10" r="15.2" fill="none" stroke="#222" stroke-width="0.9"/>
<circle cx="580.80" cy="384.10" r="15.2" fill="#fde1c2" stroke="none" stroke-width="1"/>
<path d="M580.80,384.10 L580.80,368.90 A15.2,15.2 0 0 0 567.48,391.42 Z" fill="#cc3030" stroke="#222" stroke-width="0.7" stroke-linejoin="round"/>
<circle cx="580.80" cy="384.10" r="15.2" fill="none" stroke="#222" stroke-width="0.9"/>
<circle cx="616.50" cy="384.10" r="15.2" fill="#fde1c2" stroke="none" stroke-width="1"/>
<path d="M616.50,384.10 L616.50,368.90 A15.2,15.2 0 0 0 602.04,379.40 Z" fill="#cc3030" stroke="#222" stroke-width="0.7" stroke-linejoin="round"/>
<circle cx="616.50" cy="384.10" r="15.2" fill="none" stroke="#222" stroke-width="0.9"/>
<circle cx="652.40" cy="384.10" r="15.2" fill="#fde1c2" stroke="none" stroke-width="1"/>
<path d="M652.40,384.10 L652.40,368.90 A15.2,15.2 0 1 0 654.31,399.18 Z" fill="#cc3030" stroke="#222" stroke-width="0.7" stroke-linejoin="round"/>
<circle cx="652.40" cy="384.10" r="15.2" fill="none" stroke="#222" stroke-width="0.9"/>
<text x="523.40" y="427.60" font-size="12" text-anchor="end" fill="#000" stroke="#000">Med12</text>
<circle cx="545.10" cy="422.60" r="15.2" fill="#fde1c2" stroke="none" stroke-width="1"/>
<path d="M545.10,422.60 L545.10,407.40 A15.2,15.2 0 0 0 541.32,407.88 Z" fill="#cc3030" stroke="#222" stroke-width="0.7" stroke-linejoin="round"/>
<circle cx="545.10" cy="422.60" r="15.2" fill="none" stroke="#222" stroke-width="0.9"/>
<circle cx="580.80" cy="422.60" r="15.2" fill="#fde1c2" stroke="none" stroke-width="1"/>
<path d="M580.80,422.60 L580.80,407.40 A15.2,15.2 0 0 0 567.67,414.94 Z" fill="#cc3030" stroke="#222" stroke-width="0.7" stroke-linejoin="round"/>
<circle cx="580.80" cy="422.60" r="15.2" fill="none" stroke="#222" stroke-width="0.9"/>
<circle cx="616.50" cy="422.60" r="15.2" fill="#fde1c2" stroke="none" stroke-width="1"/>
<path d="M616.50,422.60 L616.50,407.40 A15.2,15.2 0 0 0 604.91,412.76 Z" fill="#cc3030" stroke="#222" stroke-width="0.7" stroke-linejoin="round"/>
<circle cx="616.50" cy="422.60" r="15.2" fill="none" stroke="#222" stroke-width="0.9"/>
<circle cx="652.40" cy="422.60" r="15.2" fill="#fde1c2" stroke="none" stroke-width="1"/>
<path d="M652.40,422.60 L652.40,407.40 A15.2,15.2 0 0 0 637.20,422.60 Z" fill="#cc3030" stroke="#222" stroke-width="0.7" stroke-linejoin="round"/>
<circle cx="652.40" cy="422.60" r="15.2" fill="none" stroke="#222" stroke-width="0.9"/>
<text x="523.40" y="465.90" font-size="12" text-anchor="end" fill="#000" stroke="#000">Trp53</text>
<circle cx="545.10" cy="460.90" r="15.2" fill="#fde1c2" stroke="none" stroke-width="1"/>
<path d="M545.10,460.90 L545.10,445.70 A15.2,15.2 0 0 0 543.48,445.79 Z" fill="#cc3030" stroke="#222" stroke-width="0.7" stroke-linejoin="round"/>
<circle cx="545.10" cy="460.90" r="15.2" fill="none" stroke="#222" stroke-width="0.9"/>
<circle cx="580.80" cy="460.90" r="15.2" fill="#fde1c2" stroke="none" stroke-width="1"/>
<path d="M580.80,460.90 L580.80,445.70 A15.2,15.2 0 0 0 579.37,445.77 Z" fill="#cc3030" stroke="#222" stroke-width="0.7" stroke-linejoin="round"/>
<circle cx="580.80" cy="460.90" r="15.2" fill="none" stroke="#222" stroke-width="0.9"/>
<circle cx="616.50" cy="460.90" r="15.2" fill="#fde1c2" stroke="none" stroke-width="1"/>
<path d="M616.50,460.90 L616.50,445.70 A15.2,15.2 0 0 0 612.08,446.36 Z" fill="#cc3030" stroke="#222" stroke-width="0.7" stroke-linejoin="round"/>
<circle cx="616.50" cy="460.90" r="15.2" fill="none" stroke="#222" stroke-width="0.9"/>
<circle cx="652.40" cy="460.90" r="15.2" fill="#fde1c2" stroke="none" stroke-width="1"/>
<path d="M652.40,460.90 L652.40,445.70 A15.2,15.2 0 0 0 648.16,446.30 Z" fill="#cc3030" stroke="#222" stroke-width="0.7" stroke-linejoin="round"/>
<circle cx="652.40" cy="460.90" r="15.2" fill="none" stroke="#222" stroke-width="0.9"/>
<text transform="translate(550.10,493.60) rotate(-45)" text-anchor="end" font-size="12.4">LV::conca</text>
<text transform="translate(585.80,493.60) rotate(-45)" text-anchor="end" font-size="12.4">LV::conca-27</text>
<text transform="translate(621.50,493.60) rotate(-45)" text-anchor="end" font-size="12.4">LV::UBA7</text>
<text transform="translate(657.40,493.60) rotate(-45)" text-anchor="end" font-size="12.4">LV::UBA7-27</text>
<text x="481.40" y="547.90" font-size="16" font-weight="bold" fill="#000" stroke="#000">g</text>
<rect x="517.00" y="556.30" width="16.97" height="16.66" fill="#ffffff" stroke="none" stroke-width="1"/>
<rect x="533.67" y="556.30" width="16.97" height="16.66" fill="#f6faff" stroke="none" stroke-width="1"/>
<rect x="550.34" y="556.30" width="16.97" height="16.66" fill="#fde6e5" stroke="none" stroke-width="1"/>
<rect x="567.01" y="556.30" width="16.97" height="16.66" fill="#f3f9ff" stroke="none" stroke-width="1"/>
<rect x="583.68" y="556.30" width="16.97" height="16.66" fill="#deefff" stroke="none" stroke-width="1"/>
<rect x="600.35" y="556.30" width="16.97" height="16.66" fill="#deefff" stroke="none" stroke-width="1"/>
<rect x="617.02" y="556.30" width="16.97" height="16.66" fill="#f3f9ff" stroke="none" stroke-width="1"/>
<rect x="517.00" y="572.66" width="16.97" height="16.66" fill="#ffffff" stroke="none" stroke-width="1"/>
<rect x="533.67" y="572.66" width="16.97" height="16.66" fill="#edf6ff" stroke="none" stroke-width="1"/>
<rect x="550.34" y="572.66" width="16.97" height="16.66" fill="#edf6ff" stroke="none" stroke-width="1"/>
<rect x="567.01" y="572.66" width="16.97" height="16.66" fill="#fef9f9" stroke="none" stroke-width="1"/>
<rect x="583.68" y="572.66" width="16.97" height="16.66" fill="#f3f9ff" stroke="none" stroke-width="1"/>
<rect x="600.35" y="572.66" width="16.97" height="16.66" fill="#c7e3ff" stroke="none" stroke-width="1"/>
<rect x="617.02" y="572.66" width="16.97" height="16.66" fill="#f4f9ff" stroke="none" stroke-width="1"/>
<rect x="517.00" y="589.02" width="16.97" height="16.66" fill="#ffffff" stroke="none" stroke-width="1"/>
<rect x="533.67" y="589.02" width="16.97" height="16.66" fill="#eaf4ff" stroke="none" stroke-width="1"/>
<rect x="550.34" y="589.02" width="16.97" height="16.66" fill="#fde6e5" stroke="none" stroke-width="1"/>
<rect x="567.01" y="589.02" width="16.97" height="16.66" fill="#fde6e5" stroke="none" stroke-width="1"/>
<rect x="583.68" y="589.02" width="16.97" height="16.66" fill="#edf6ff" stroke="none" stroke-width="1"/>
<rect x="600.35" y="589.02" width="16.97" height="16.66" fill="#f0f7ff" stroke="none" stroke-width="1"/>
<rect x="617.02" y="589.02" width="16.97" height="16.66" fill="#bedfff" stroke="none" stroke-width="1"/>
<rect x="517.00" y="605.38" width="16.97" height="16.66" fill="#ffffff" stroke="none" stroke-width="1"/>
<rect x="533.67" y="605.38" width="16.97" height="16.66" fill="#e4f2ff" stroke="none" stroke-width="1"/>
<rect x="550.34" y="605.38" width="16.97" height="16.66" fill="#fde6e5" stroke="none" stroke-width="1"/>
<rect x="567.01" y="605.38" width="16.97" height="16.66" fill="#fde8e6" stroke="none" stroke-width="1"/>
<rect x="583.68" y="605.38" width="16.97" height="16.66" fill="#f0f7ff" stroke="none" stroke-width="1"/>
<rect x="600.35" y="605.38" width="16.97" height="16.66" fill="#6cb7ff" stroke="none" stroke-width="1"/>
<rect x="617.02" y="605.38" width="16.97" height="16.66" fill="#edf6ff" stroke="none" stroke-width="1"/>
<rect x="517.00" y="621.74" width="16.97" height="16.66" fill="#ffffff" stroke="none" stroke-width="1"/>
<rect x="533.67" y="621.74" width="16.97" height="16.66" fill="#edf6ff" stroke="none" stroke-width="1"/>
<rect x="550.34" y="621.74" width="16.97" height="16.66" fill="#f6faff" stroke="none" stroke-width="1"/>
<rect x="567.01" y="621.74" width="16.97" height="16.66" fill="#fde3e2" stroke="none" stroke-width="1"/>
<rect x="583.68" y="621.74" width="16.97" height="16.66" fill="#fbcac8" stroke="none" stroke-width="1"/>
<rect x="600.35" y="621.74" width="16.97" height="16.66" fill="#66b4ff" stroke="none" stroke-width="1"/>
<rect x="617.02" y="621.74" width="16.97" height="16.66" fill="#fbc5c2" stroke="none" stroke-width="1"/>
<rect x="517.00" y="638.10" width="16.97" height="16.66" fill="#ffffff" stroke="none" stroke-width="1"/>
<rect x="533.67" y="638.10" width="16.97" height="16.66" fill="#fefdfd" stroke="none" stroke-width="1"/>
<rect x="550.34" y="638.10" width="16.97" height="16.66" fill="#fde4e3" stroke="none" stroke-width="1"/>
<rect x="567.01" y="638.10" width="16.97" height="16.66" fill="#fde4e3" stroke="none" stroke-width="1"/>
<rect x="583.68" y="638.10" width="16.97" height="16.66" fill="#e7f3ff" stroke="none" stroke-width="1"/>
<rect x="600.35" y="638.10" width="16.97" height="16.66" fill="#6cb7ff" stroke="none" stroke-width="1"/>
<rect x="617.02" y="638.10" width="16.97" height="16.66" fill="#d2e9ff" stroke="none" stroke-width="1"/>
<rect x="517.00" y="654.46" width="16.97" height="16.66" fill="#ffffff" stroke="none" stroke-width="1"/>
<rect x="533.67" y="654.46" width="16.97" height="16.66" fill="#f0f7ff" stroke="none" stroke-width="1"/>
<rect x="550.34" y="654.46" width="16.97" height="16.66" fill="#f7fbff" stroke="none" stroke-width="1"/>
<rect x="567.01" y="654.46" width="16.97" height="16.66" fill="#f7fbff" stroke="none" stroke-width="1"/>
<rect x="583.68" y="654.46" width="16.97" height="16.66" fill="#e7f3ff" stroke="none" stroke-width="1"/>
<rect x="600.35" y="654.46" width="16.97" height="16.66" fill="#f3f9ff" stroke="none" stroke-width="1"/>
<rect x="617.02" y="654.46" width="16.97" height="16.66" fill="#d2e9ff" stroke="none" stroke-width="1"/>
<rect x="517.00" y="670.82" width="16.97" height="16.66" fill="#ffffff" stroke="none" stroke-width="1"/>
<rect x="533.67" y="670.82" width="16.97" height="16.66" fill="#f2f8ff" stroke="none" stroke-width="1"/>
<rect x="550.34" y="670.82" width="16.97" height="16.66" fill="#f9fcff" stroke="none" stroke-width="1"/>
<rect x="567.01" y="670.82" width="16.97" height="16.66" fill="#f0f7ff" stroke="none" stroke-width="1"/>
<rect x="583.68" y="670.82" width="16.97" height="16.66" fill="#e7f3ff" stroke="none" stroke-width="1"/>
<rect x="600.35" y="670.82" width="16.97" height="16.66" fill="#c7e3ff" stroke="none" stroke-width="1"/>
<rect x="617.02" y="670.82" width="16.97" height="16.66" fill="#c7e3ff" stroke="none" stroke-width="1"/>
<rect x="517.00" y="556.30" width="116.69" height="130.88" fill="none" stroke="#999" stroke-width="1"/>
<line x1="513.40" y1="564.48" x2="517.00" y2="564.48" stroke="#444" stroke-width="0.9"/>
<text x="512.20" y="568.38" font-size="10.9" text-anchor="end" fill="#000" stroke="#000">Aatf</text>
<line x1="513.40" y1="580.84" x2="517.00" y2="580.84" stroke="#444" stroke-width="0.9"/>
<text x="512.20" y="584.74" font-size="10.9" text-anchor="end" fill="#000" stroke="#000">Adpgk</text>
<line x1="513.40" y1="597.20" x2="517.00" y2="597.20" stroke="#444" stroke-width="0.9"/>
<text x="512.20" y="601.10" font-size="10.9" text-anchor="end" fill="#000" stroke="#000">Cpne1</text>
<line x1="513.40" y1="613.56" x2="517.00" y2="613.56" stroke="#444" stroke-width="0.9"/>
<text x="512.20" y="617.46" font-size="10.9" text-anchor="end" fill="#000" stroke="#000">Dpagt1</text>
<line x1="513.40" y1="629.92" x2="517.00" y2="629.92" stroke="#444" stroke-width="0.9"/>
<text x="512.20" y="633.82" font-size="10.9" text-anchor="end" fill="#000" stroke="#000">Irgq</text>
<line x1="513.40" y1="646.28" x2="517.00" y2="646.28" stroke="#444" stroke-width="0.9"/>
<text x="512.20" y="650.18" font-size="10.9" text-anchor="end" fill="#000" stroke="#000">Med12</text>
<line x1="513.40" y1="662.64" x2="517.00" y2="662.64" stroke="#444" stroke-width="0.9"/>
<text x="512.20" y="666.54" font-size="10.9" text-anchor="end" fill="#000" stroke="#000">Reps1</text>
<line x1="513.40" y1="679.00" x2="517.00" y2="679.00" stroke="#444" stroke-width="0.9"/>
<text x="512.20" y="682.90" font-size="10.9" text-anchor="end" fill="#000" stroke="#000">Trp53</text>
<line x1="525.34" y1="687.18" x2="525.34" y2="690.78" stroke="#444" stroke-width="0.9"/>
<text transform="translate(528.13,702.00) rotate(-45)" text-anchor="end" font-size="10.9">Ctrl LV</text>
<line x1="542.00" y1="687.18" x2="542.00" y2="690.78" stroke="#444" stroke-width="0.9"/>
<text transform="translate(544.80,702.00) rotate(-45)" text-anchor="end" font-size="10.9">LV::conca</text>
<line x1="558.67" y1="687.18" x2="558.67" y2="690.78" stroke="#444" stroke-width="0.9"/>
<text transform="translate(561.47,702.00) rotate(-45)" text-anchor="end" font-size="10.9">LV::conca-27</text>
<line x1="575.35" y1="687.18" x2="575.35" y2="690.78" stroke="#444" stroke-width="0.9"/>
<text transform="translate(578.14,702.00) rotate(-45)" text-anchor="end" font-size="10.9">LV::UBA7</text>
<line x1="592.01" y1="687.18" x2="592.01" y2="690.78" stroke="#444" stroke-width="0.9"/>
<text transform="translate(594.81,702.00) rotate(-45)" text-anchor="end" font-size="10.9">LV::UBA7-27</text>
<line x1="608.68" y1="687.18" x2="608.68" y2="690.78" stroke="#444" stroke-width="0.9"/>
<text transform="translate(611.48,702.00) rotate(-45)" text-anchor="end" font-size="10.9">Healthy colon</text>
<line x1="625.36" y1="687.18" x2="625.36" y2="690.78" stroke="#444" stroke-width="0.9"/>
<text transform="translate(628.15,702.00) rotate(-45)" text-anchor="end" font-size="10.9">MC38 in vitro</text>
<defs><linearGradient id="cb" x1="0" y1="0" x2="0" y2="1"><stop offset="0" stop-color="#f0241a"/><stop offset="0.5" stop-color="#ffffff"/><stop offset="1" stop-color="#148cff"/></linearGradient></defs>
<rect x="638.60" y="556.20" width="7.80" height="130.60" fill="url(#cb)" stroke="#555" stroke-width="0.8"/>
<text x="651.40" y="559.60" font-size="8.3" fill="#000" stroke="#000" style="stroke-width:0.1px">4</text>
<line x1="638.60" y1="589.00" x2="640.20" y2="589.00" stroke="#666" stroke-width="0.7"/>
<line x1="644.80" y1="589.00" x2="646.40" y2="589.00" stroke="#666" stroke-width="0.7"/>
<text x="651.40" y="592.00" font-size="8.3" fill="#000" stroke="#000" style="stroke-width:0.1px">2</text>
<line x1="638.60" y1="621.40" x2="640.20" y2="621.40" stroke="#666" stroke-width="0.7"/>
<line x1="644.80" y1="621.40" x2="646.40" y2="621.40" stroke="#666" stroke-width="0.7"/>
<text x="651.40" y="624.40" font-size="8.3" fill="#000" stroke="#000" style="stroke-width:0.1px">0</text>
<line x1="638.60" y1="653.80" x2="640.20" y2="653.80" stroke="#666" stroke-width="0.7"/>
<line x1="644.80" y1="653.80" x2="646.40" y2="653.80" stroke="#666" stroke-width="0.7"/>
<text x="648.90" y="656.80" font-size="8.3" fill="#000" stroke="#000" style="stroke-width:0.1px">-2</text>
<text x="648.90" y="689.20" font-size="8.3" fill="#000" stroke="#000" style="stroke-width:0.1px">-4</text>
<text transform="translate(671.7,620.5) rotate(-90)" text-anchor="middle" font-size="10.9">Log2 fold change</text>
<text transform="translate(684.2,619.4) rotate(-90)" text-anchor="middle" font-size="10.9">relative to Ctrl LV</text>
<text x="14.20" y="550.70" font-size="16" font-weight="bold" fill="#000" stroke="#000">d</text>
<circle cx="45.20" cy="541.00" r="2.4" fill="#1ea0f0" stroke="#333" stroke-width="0.5"/>
<text x="53.90" y="543.10" font-size="6.2" fill="#222" stroke="#222">Ctrl LV</text>
<circle cx="45.20" cy="549.25" r="2.4" fill="#f06414" stroke="#333" stroke-width="0.5"/>
<text x="53.90" y="551.35" font-size="6.2" fill="#222" stroke="#222">MC38 in vitro</text>
<circle cx="45.20" cy="557.50" r="2.4" fill="#7a35e8" stroke="#333" stroke-width="0.5"/>
<text x="53.90" y="559.60" font-size="6.2" fill="#222" stroke="#222">Healthy colon</text>
<line x1="29.30" y1="577.30" x2="105.46" y2="577.30" stroke="#d0d0d0" stroke-width="0.8"/>
<line x1="29.30" y1="594.60" x2="105.46" y2="594.60" stroke="#d0d0d0" stroke-width="0.8"/>
<line x1="29.30" y1="612.30" x2="105.46" y2="612.30" stroke="#d0d0d0" stroke-width="0.8"/>
<line x1="29.30" y1="629.40" x2="105.46" y2="629.40" stroke="#d0d0d0" stroke-width="0.8"/>
<line x1="29.30" y1="646.70" x2="105.46" y2="646.70" stroke="#d0d0d0" stroke-width="0.8"/>
<line x1="29.30" y1="664.20" x2="105.46" y2="664.20" stroke="#d0d0d0" stroke-width="0.8"/>
<line x1="29.30" y1="681.50" x2="105.46" y2="681.50" stroke="#d0d0d0" stroke-width="0.8"/>
<line x1="29.30" y1="699.10" x2="105.46" y2="699.10" stroke="#d0d0d0" stroke-width="0.8"/>
<circle cx="53.50" cy="572.30" r="2.25" fill="#1ea0f0" stroke="#111" stroke-width="0.45"/>
<circle cx="55.60" cy="573.10" r="2.25" fill="#1ea0f0" stroke="#111" stroke-width="0.45"/>
<circle cx="58.30" cy="572.30" r="2.25" fill="#1ea0f0" stroke="#111" stroke-width="0.45"/>
<circle cx="56.00" cy="573.10" r="2.25" fill="#1ea0f0" stroke="#111" stroke-width="0.45"/>
<circle cx="49.30" cy="577.30" r="2.25" fill="#f06414" stroke="#111" stroke-width="0.45"/>
<circle cx="29.20" cy="582.10" r="2.25" fill="#7a35e8" stroke="#111" stroke-width="0.45"/>
<circle cx="29.60" cy="584.10" r="2.25" fill="#7a35e8" stroke="#111" stroke-width="0.45"/>
<circle cx="51.30" cy="589.60" r="2.25" fill="#1ea0f0" stroke="#111" stroke-width="0.45"/>
<circle cx="54.80" cy="590.40" r="2.25" fill="#1ea0f0" stroke="#111" stroke-width="0.45"/>
<circle cx="53.40" cy="589.60" r="2.25" fill="#1ea0f0" stroke="#111" stroke-width="0.45"/>
<circle cx="56.30" cy="594.60" r="2.25" fill="#f06414" stroke="#111" stroke-width="0.45"/>
<circle cx="29.20" cy="599.40" r="2.25" fill="#7a35e8" stroke="#111" stroke-width="0.45"/>
<circle cx="29.80" cy="601.40" r="2.25" fill="#7a35e8" stroke="#111" stroke-width="0.45"/>
<circle cx="45.60" cy="607.30" r="2.25" fill="#1ea0f0" stroke="#111" stroke-width="0.45"/>
<circle cx="49.50" cy="608.10" r="2.25" fill="#1ea0f0" stroke="#111" stroke-width="0.45"/>
<circle cx="53.00" cy="607.30" r="2.25" fill="#1ea0f0" stroke="#111" stroke-width="0.45"/>
<circle cx="52.10" cy="608.10" r="2.25" fill="#1ea0f0" stroke="#111" stroke-width="0.45"/>
<circle cx="55.00" cy="612.30" r="2.25" fill="#f06414" stroke="#111" stroke-width="0.45"/>
<circle cx="30.30" cy="617.10" r="2.25" fill="#7a35e8" stroke="#111" stroke-width="0.45"/>
<circle cx="31.60" cy="618.10" r="2.25" fill="#7a35e8" stroke="#111" stroke-width="0.45"/>
<circle cx="39.90" cy="624.40" r="2.25" fill="#1ea0f0" stroke="#111" stroke-width="0.45"/>
<circle cx="42.50" cy="625.20" r="2.25" fill="#1ea0f0" stroke="#111" stroke-width="0.45"/>
<circle cx="46.00" cy="624.40" r="2.25" fill="#1ea0f0" stroke="#111" stroke-width="0.45"/>
<circle cx="44.00" cy="625.20" r="2.25" fill="#1ea0f0" stroke="#111" stroke-width="0.45"/>
<circle cx="42.50" cy="629.40" r="2.25" fill="#f06414" stroke="#111" stroke-width="0.45"/>
<circle cx="30.70" cy="634.20" r="2.25" fill="#7a35e8" stroke="#111" stroke-width="0.45"/>
<circle cx="30.70" cy="635.80" r="2.25" fill="#7a35e8" stroke="#111" stroke-width="0.45"/>
<circle cx="29.20" cy="641.70" r="2.25" fill="#1ea0f0" stroke="#111" stroke-width="0.45"/>
<circle cx="29.20" cy="646.70" r="2.25" fill="#f06414" stroke="#111" stroke-width="0.45"/>
<circle cx="29.20" cy="651.50" r="2.25" fill="#7a35e8" stroke="#111" stroke-width="0.45"/>
<circle cx="29.20" cy="653.00" r="2.25" fill="#7a35e8" stroke="#111" stroke-width="0.45"/>
<circle cx="29.20" cy="659.20" r="2.25" fill="#1ea0f0" stroke="#111" stroke-width="0.45"/>
<circle cx="29.20" cy="664.20" r="2.25" fill="#f06414" stroke="#111" stroke-width="0.45"/>
<circle cx="31.50" cy="669.00" r="2.25" fill="#7a35e8" stroke="#111" stroke-width="0.45"/>
<circle cx="32.40" cy="669.60" r="2.25" fill="#7a35e8" stroke="#111" stroke-width="0.45"/>
<circle cx="63.50" cy="676.50" r="2.25" fill="#1ea0f0" stroke="#111" stroke-width="0.45"/>
<circle cx="66.60" cy="677.30" r="2.25" fill="#1ea0f0" stroke="#111" stroke-width="0.45"/>
<circle cx="70.30" cy="676.50" r="2.25" fill="#1ea0f0" stroke="#111" stroke-width="0.45"/>
<circle cx="71.50" cy="677.30" r="2.25" fill="#1ea0f0" stroke="#111" stroke-width="0.45"/>
<circle cx="77.10" cy="681.50" r="2.25" fill="#f06414" stroke="#111" stroke-width="0.45"/>
<circle cx="29.30" cy="686.30" r="2.25" fill="#7a35e8" stroke="#111" stroke-width="0.45"/>
<circle cx="29.30" cy="687.70" r="2.25" fill="#7a35e8" stroke="#111" stroke-width="0.45"/>
<circle cx="88.90" cy="694.10" r="2.25" fill="#1ea0f0" stroke="#111" stroke-width="0.45"/>
<circle cx="92.60" cy="694.90" r="2.25" fill="#1ea0f0" stroke="#111" stroke-width="0.45"/>
<circle cx="95.10" cy="694.10" r="2.25" fill="#1ea0f0" stroke="#111" stroke-width="0.45"/>
<circle cx="97.00" cy="694.90" r="2.25" fill="#1ea0f0" stroke="#111" stroke-width="0.45"/>
<circle cx="93.00" cy="699.10" r="2.25" fill="#f06414" stroke="#111" stroke-width="0.45"/>
<circle cx="29.30" cy="703.90" r="2.25" fill="#7a35e8" stroke="#111" stroke-width="0.45"/>
<circle cx="30.60" cy="705.50" r="2.25" fill="#7a35e8" stroke="#111" stroke-width="0.45"/>
<line x1="29.30" y1="569.80" x2="29.30" y2="706.90" stroke="#222" stroke-width="1"/>
<line x1="29.30" y1="706.90" x2="105.46" y2="706.90" stroke="#222" stroke-width="1"/>
<line x1="26.30" y1="577.30" x2="29.30" y2="577.30" stroke="#222" stroke-width="0.9"/>
<text x="24.60" y="580.00" font-size="7.6" text-anchor="end" fill="#000" stroke="#000">Irgq</text>
<line x1="26.30" y1="594.60" x2="29.30" y2="594.60" stroke="#222" stroke-width="0.9"/>
<text x="24.60" y="597.30" font-size="7.6" text-anchor="end" fill="#000" stroke="#000">Dpagt1</text>
<line x1="26.30" y1="612.30" x2="29.30" y2="612.30" stroke="#222" stroke-width="0.9"/>
<text x="24.60" y="615.00" font-size="7.6" text-anchor="end" fill="#000" stroke="#000">Aatf</text>
<line x1="26.30" y1="629.40" x2="29.30" y2="629.40" stroke="#222" stroke-width="0.9"/>
<text x="24.60" y="632.10" font-size="7.6" text-anchor="end" fill="#000" stroke="#000">Cpne1</text>
<line x1="26.30" y1="646.70" x2="29.30" y2="646.70" stroke="#222" stroke-width="0.9"/>
<text x="24.60" y="649.40" font-size="7.6" text-anchor="end" fill="#000" stroke="#000">Reps1</text>
<line x1="26.30" y1="664.20" x2="29.30" y2="664.20" stroke="#222" stroke-width="0.9"/>
<text x="24.60" y="666.90" font-size="7.6" text-anchor="end" fill="#000" stroke="#000">Adpgk</text>
<line x1="26.30" y1="681.50" x2="29.30" y2="681.50" stroke="#222" stroke-width="0.9"/>
<text x="24.60" y="684.20" font-size="7.6" text-anchor="end" fill="#000" stroke="#000">Med12</text>
<line x1="26.30" y1="699.10" x2="29.30" y2="699.10" stroke="#222" stroke-width="0.9"/>
<text x="24.60" y="701.80" font-size="7.6" text-anchor="end" fill="#000" stroke="#000">Trp53</text>
<line x1="29.30" y1="706.90" x2="29.30" y2="709.40" stroke="#222" stroke-width="0.9"/>
<text x="29.30" y="719.30" font-size="8.8" text-anchor="middle" fill="#000" stroke="#000">0.0</text>
<line x1="48.34" y1="706.90" x2="48.34" y2="709.40" stroke="#222" stroke-width="0.9"/>
<text x="48.34" y="719.30" font-size="8.8" text-anchor="middle" fill="#000" stroke="#000">0.2</text>
<line x1="67.38" y1="706.90" x2="67.38" y2="709.40" stroke="#222" stroke-width="0.9"/>
<text x="67.38" y="719.30" font-size="8.8" text-anchor="middle" fill="#000" stroke="#000">0.4</text>
<line x1="86.42" y1="706.90" x2="86.42" y2="709.40" stroke="#222" stroke-width="0.9"/>
<text x="86.42" y="719.30" font-size="8.8" text-anchor="middle" fill="#000" stroke="#000">0.6</text>
<line x1="105.46" y1="706.90" x2="105.46" y2="709.40" stroke="#222" stroke-width="0.9"/>
<text x="105.46" y="719.30" font-size="8.8" text-anchor="middle" fill="#000" stroke="#000">0.8</text>
<text x="67.40" y="732.30" font-size="9.4" text-anchor="middle" fill="#000" stroke="#000">VAF</text>
<text x="92.50" y="470.60" font-size="16" font-weight="bold" fill="#000" stroke="#000">e</text>
<line x1="146.90" y1="473.40" x2="204.50" y2="473.40" stroke="#d4d4d4" stroke-width="0.8"/>
<line x1="146.90" y1="484.30" x2="204.50" y2="484.30" stroke="#d4d4d4" stroke-width="0.8"/>
<line x1="146.90" y1="495.00" x2="204.50" y2="495.00" stroke="#d4d4d4" stroke-width="0.8"/>
<line x1="146.90" y1="505.70" x2="204.50" y2="505.70" stroke="#d4d4d4" stroke-width="0.8"/>
<line x1="146.90" y1="516.60" x2="204.50" y2="516.60" stroke="#d4d4d4" stroke-width="0.8"/>
<path d="M178.50,483.90 Q182.00,483.10 184.00,482.60 Q186.00,482.10 188.25,483.00 Q190.50,483.90 190.50,484.30 Q190.50,484.70 188.25,485.60 Q186.00,486.50 184.00,486.00 Q182.00,485.50 180.25,485.10 Q178.50,484.70 178.50,484.30 Z" fill="#ecd49a" stroke="#9a7a20" stroke-width="0.45"/>
<path d="M166.50,494.60 Q168.00,492.80 170.00,493.40 Q172.00,494.00 174.50,493.75 Q177.00,493.50 179.25,494.05 Q181.50,494.60 181.50,495.00 Q181.50,495.40 179.25,495.95 Q177.00,496.50 174.50,496.25 Q172.00,496.00 170.00,496.60 Q168.00,497.20 167.25,496.30 Q166.50,495.40 166.50,495.00 Z" fill="#f8bf9c" stroke="#b86030" stroke-width="0.45"/>
<path d="M165.50,505.30 Q167.00,503.30 171.00,503.50 Q175.00,503.70 179.50,503.40 Q184.00,503.10 185.75,504.20 Q187.50,505.30 187.50,505.70 Q187.50,506.10 185.75,507.20 Q184.00,508.30 179.50,508.00 Q175.00,507.70 171.00,507.90 Q167.00,508.10 166.25,507.10 Q165.50,506.10 165.50,505.70 Z" fill="#b9a2f2" stroke="#6040b0" stroke-width="0.45"/>
<path d="M149.00,516.40 Q156.00,516.10 159.00,515.20 Q162.00,514.30 166.00,514.20 Q170.00,514.10 172.75,514.75 Q175.50,515.40 176.25,515.90 Q177.00,516.40 177.00,516.60 Q177.00,516.80 176.25,517.30 Q175.50,517.80 172.75,518.45 Q170.00,519.10 166.00,519.00 Q162.00,518.90 159.00,518.00 Q156.00,517.10 152.50,516.95 Q149.00,516.80 149.00,516.60 Z" fill="#a9cdf5" stroke="#3070b0" stroke-width="0.45"/>
<circle cx="182.60" cy="472.00" r="2.05" fill="#0a0a0a" stroke="#111" stroke-width="0.45"/>
<circle cx="184.00" cy="473.40" r="2.05" fill="#0a0a0a" stroke="#111" stroke-width="0.45"/>
<circle cx="183.50" cy="474.80" r="2.05" fill="#0a0a0a" stroke="#111" stroke-width="0.45"/>
<circle cx="186.20" cy="472.70" r="2.05" fill="#0a0a0a" stroke="#111" stroke-width="0.45"/>
<circle cx="187.90" cy="474.10" r="2.05" fill="#0a0a0a" stroke="#111" stroke-width="0.45"/>
<circle cx="189.70" cy="472.00" r="2.05" fill="#0a0a0a" stroke="#111" stroke-width="0.45"/>
<circle cx="190.50" cy="473.40" r="2.05" fill="#0a0a0a" stroke="#111" stroke-width="0.45"/>
<circle cx="184.80" cy="474.80" r="2.05" fill="#0a0a0a" stroke="#111" stroke-width="0.45"/>
<circle cx="179.00" cy="482.90" r="2.05" fill="#c8961e" stroke="#111" stroke-width="0.45"/>
<circle cx="186.20" cy="484.30" r="2.05" fill="#c8961e" stroke="#111" stroke-width="0.45"/>
<circle cx="190.10" cy="485.70" r="2.05" fill="#c8961e" stroke="#111" stroke-width="0.45"/>
<circle cx="186.20" cy="483.60" r="2.05" fill="#c8961e" stroke="#111" stroke-width="0.45"/>
<circle cx="187.90" cy="485.00" r="2.05" fill="#c8961e" stroke="#111" stroke-width="0.45"/>
<circle cx="185.70" cy="482.90" r="2.05" fill="#c8961e" stroke="#111" stroke-width="0.45"/>
<circle cx="188.80" cy="484.30" r="2.05" fill="#c8961e" stroke="#111" stroke-width="0.45"/>
<circle cx="168.20" cy="493.60" r="2.05" fill="#f06414" stroke="#111" stroke-width="0.45"/>
<circle cx="167.60" cy="495.00" r="2.05" fill="#f06414" stroke="#111" stroke-width="0.45"/>
<circle cx="171.30" cy="496.40" r="2.05" fill="#f06414" stroke="#111" stroke-width="0.45"/>
<circle cx="177.00" cy="494.30" r="2.05" fill="#f06414" stroke="#111" stroke-width="0.45"/>
<circle cx="180.50" cy="495.70" r="2.05" fill="#f06414" stroke="#111" stroke-width="0.45"/>
<circle cx="168.60" cy="493.60" r="2.05" fill="#f06414" stroke="#111" stroke-width="0.45"/>
<circle cx="170.40" cy="504.30" r="2.05" fill="#7a35e8" stroke="#111" stroke-width="0.45"/>
<circle cx="166.90" cy="505.70" r="2.05" fill="#7a35e8" stroke="#111" stroke-width="0.45"/>
<circle cx="178.30" cy="507.10" r="2.05" fill="#7a35e8" stroke="#111" stroke-width="0.45"/>
<circle cx="181.80" cy="505.00" r="2.05" fill="#7a35e8" stroke="#111" stroke-width="0.45"/>
<circle cx="186.20" cy="506.40" r="2.05" fill="#7a35e8" stroke="#111" stroke-width="0.45"/>
<circle cx="184.40" cy="504.30" r="2.05" fill="#7a35e8" stroke="#111" stroke-width="0.45"/>
<circle cx="167.80" cy="505.70" r="2.05" fill="#7a35e8" stroke="#111" stroke-width="0.45"/>
<circle cx="173.90" cy="507.10" r="2.05" fill="#7a35e8" stroke="#111" stroke-width="0.45"/>
<circle cx="150.70" cy="515.20" r="2.05" fill="#1ea0f0" stroke="#111" stroke-width="0.45"/>
<circle cx="163.40" cy="516.60" r="2.05" fill="#1ea0f0" stroke="#111" stroke-width="0.45"/>
<circle cx="165.60" cy="518.00" r="2.05" fill="#1ea0f0" stroke="#111" stroke-width="0.45"/>
<circle cx="169.10" cy="515.90" r="2.05" fill="#1ea0f0" stroke="#111" stroke-width="0.45"/>
<circle cx="171.30" cy="517.30" r="2.05" fill="#1ea0f0" stroke="#111" stroke-width="0.45"/>
<circle cx="174.80" cy="515.20" r="2.05" fill="#1ea0f0" stroke="#111" stroke-width="0.45"/>
<circle cx="162.50" cy="516.60" r="2.05" fill="#1ea0f0" stroke="#111" stroke-width="0.45"/>
<line x1="146.90" y1="466.00" x2="146.90" y2="523.70" stroke="#222" stroke-width="1"/>
<line x1="146.90" y1="523.70" x2="204.50" y2="523.70" stroke="#222" stroke-width="1"/>
<line x1="144.30" y1="473.40" x2="146.90" y2="473.40" stroke="#222" stroke-width="0.9"/>
<line x1="144.30" y1="484.30" x2="146.90" y2="484.30" stroke="#222" stroke-width="0.9"/>
<line x1="144.30" y1="495.00" x2="146.90" y2="495.00" stroke="#222" stroke-width="0.9"/>
<line x1="144.30" y1="505.70" x2="146.90" y2="505.70" stroke="#222" stroke-width="0.9"/>
<line x1="144.30" y1="516.60" x2="146.90" y2="516.60" stroke="#222" stroke-width="0.9"/>
<line x1="146.90" y1="523.70" x2="146.90" y2="526.40" stroke="#222" stroke-width="0.9"/>
<text x="146.90" y="534.90" font-size="7.6" text-anchor="middle" fill="#222" stroke="#222">0.0</text>
<line x1="161.30" y1="523.70" x2="161.30" y2="526.40" stroke="#222" stroke-width="0.9"/>
<text x="161.30" y="534.90" font-size="7.6" text-anchor="middle" fill="#222" stroke="#222">0.1</text>
<line x1="175.70" y1="523.70" x2="175.70" y2="526.40" stroke="#222" stroke-width="0.9"/>
<text x="175.70" y="534.90" font-size="7.6" text-anchor="middle" fill="#222" stroke="#222">0.2</text>
<line x1="190.10" y1="523.70" x2="190.10" y2="526.40" stroke="#222" stroke-width="0.9"/>
<text x="190.10" y="534.90" font-size="7.6" text-anchor="middle" fill="#222" stroke="#222">0.3</text>
<line x1="204.50" y1="523.70" x2="204.50" y2="526.40" stroke="#222" stroke-width="0.9"/>
<text x="204.50" y="534.90" font-size="7.6" text-anchor="middle" fill="#222" stroke="#222">0.4</text>
<text x="175.70" y="464.60" font-size="11.8" text-anchor="middle" font-style="italic" fill="#000" stroke="#000">Irgq</text>
<text x="142.40" y="475.90" font-size="7.0" text-anchor="end" fill="#000" stroke="#000">Ctrl LV</text>
<text x="142.40" y="486.80" font-size="7.0" text-anchor="end" fill="#000" stroke="#000">LV::conca</text>
<text x="142.40" y="497.50" font-size="7.0" text-anchor="end" fill="#000" stroke="#000">LV::conca-27</text>
<text x="142.40" y="508.20" font-size="7.0" text-anchor="end" fill="#000" stroke="#000">LV::UBA7</text>
<text x="142.40" y="519.10" font-size="7.0" text-anchor="end" fill="#000" stroke="#000">LV::UBA7-27</text>
<text x="175.80" y="544.80" font-size="7.4" text-anchor="middle" fill="#000" stroke="#000">VAF</text>
<line x1="198.60" y1="484.30" x2="198.60" y2="494.80" stroke="#444" stroke-width="1"/>
<circle cx="203.00" cy="489.55" r="1.15" fill="#000" stroke="none" stroke-width="1"/>
<line x1="198.60" y1="505.70" x2="198.60" y2="516.70" stroke="#444" stroke-width="1"/>
<circle cx="203.00" cy="509.60" r="1.15" fill="#000" stroke="none" stroke-width="1"/>
<circle cx="203.00" cy="512.80" r="1.15" fill="#000" stroke="none" stroke-width="1"/>
<line x1="210.40" y1="473.30" x2="210.40" y2="494.80" stroke="#333" stroke-width="1"/>
<circle cx="214.80" cy="482.45" r="1.15" fill="#000" stroke="none" stroke-width="1"/>
<circle cx="214.80" cy="485.65" r="1.15" fill="#000" stroke="none" stroke-width="1"/>
<line x1="222.50" y1="484.10" x2="222.50" y2="516.70" stroke="#777" stroke-width="1"/>
<circle cx="226.90" cy="495.60" r="1.15" fill="#000" stroke="none" stroke-width="1"/>
<circle cx="226.90" cy="498.80" r="1.15" fill="#000" stroke="none" stroke-width="1"/>
<circle cx="226.90" cy="502.00" r="1.15" fill="#000" stroke="none" stroke-width="1"/>
<circle cx="226.90" cy="505.20" r="1.15" fill="#000" stroke="none" stroke-width="1"/>
<line x1="234.70" y1="473.30" x2="234.70" y2="516.70" stroke="#aaa" stroke-width="1"/>
<circle cx="239.10" cy="490.20" r="1.15" fill="#000" stroke="none" stroke-width="1"/>
<circle cx="239.10" cy="493.40" r="1.15" fill="#000" stroke="none" stroke-width="1"/>
<circle cx="239.10" cy="496.60" r="1.15" fill="#000" stroke="none" stroke-width="1"/>
<circle cx="239.10" cy="499.80" r="1.15" fill="#000" stroke="none" stroke-width="1"/>
<line x1="258.20" y1="473.40" x2="315.80" y2="473.40" stroke="#d4d4d4" stroke-width="0.8"/>
<line x1="258.20" y1="484.30" x2="315.80" y2="484.30" stroke="#d4d4d4" stroke-width="0.8"/>
<line x1="258.20" y1="495.00" x2="315.80" y2="495.00" stroke="#d4d4d4" stroke-width="0.8"/>
<line x1="258.20" y1="505.70" x2="315.80" y2="505.70" stroke="#d4d4d4" stroke-width="0.8"/>
<line x1="258.20" y1="516.60" x2="315.80" y2="516.60" stroke="#d4d4d4" stroke-width="0.8"/>
<path d="M257.50,483.90 Q262.00,482.50 266.00,482.30 Q270.00,482.10 273.00,483.00 Q276.00,483.90 276.00,484.30 Q276.00,484.70 273.00,485.60 Q270.00,486.50 266.00,486.30 Q262.00,486.10 259.75,485.40 Q257.50,484.70 257.50,484.30 Z" fill="#ecd49a" stroke="#9a7a20" stroke-width="0.45"/>
<path d="M280.50,494.60 Q284.00,493.00 286.00,493.60 Q288.00,494.20 291.00,493.50 Q294.00,492.80 295.50,493.70 Q297.00,494.60 297.00,495.00 Q297.00,495.40 295.50,496.30 Q294.00,497.20 291.00,496.50 Q288.00,495.80 286.00,496.40 Q284.00,497.00 282.25,496.20 Q280.50,495.40 280.50,495.00 Z" fill="#f8bf9c" stroke="#b86030" stroke-width="0.45"/>
<path d="M277.50,505.40 Q281.00,503.50 283.75,504.45 Q286.50,505.40 286.50,505.70 Q286.50,506.00 283.75,506.95 Q281.00,507.90 279.25,506.95 Q277.50,506.00 277.50,505.70 Z" fill="#b9a2f2" stroke="#6040b0" stroke-width="0.45"/>
<path d="M264.00,516.50 Q270.00,516.00 272.50,515.05 Q275.00,514.10 278.50,514.55 Q282.00,515.00 284.00,515.50 Q286.00,516.00 289.00,515.30 Q292.00,514.60 294.00,515.20 Q296.00,515.80 300.00,516.15 Q304.00,516.50 304.00,516.60 Q304.00,516.70 300.00,517.05 Q296.00,517.40 294.00,518.00 Q292.00,518.60 289.00,517.90 Q286.00,517.20 284.00,517.70 Q282.00,518.20 278.50,518.65 Q275.00,519.10 272.50,518.15 Q270.00,517.20 267.00,516.95 Q264.00,516.70 264.00,516.60 Z" fill="#a9cdf5" stroke="#3070b0" stroke-width="0.45"/>
<circle cx="291.00" cy="472.00" r="2.05" fill="#0a0a0a" stroke="#111" stroke-width="0.45"/>
<circle cx="294.50" cy="473.40" r="2.05" fill="#0a0a0a" stroke="#111" stroke-width="0.45"/>
<circle cx="297.60" cy="474.80" r="2.05" fill="#0a0a0a" stroke="#111" stroke-width="0.45"/>
<circle cx="301.50" cy="472.70" r="2.05" fill="#0a0a0a" stroke="#111" stroke-width="0.45"/>
<circle cx="303.70" cy="474.10" r="2.05" fill="#0a0a0a" stroke="#111" stroke-width="0.45"/>
<circle cx="303.30" cy="472.00" r="2.05" fill="#0a0a0a" stroke="#111" stroke-width="0.45"/>
<circle cx="309.40" cy="473.40" r="2.05" fill="#0a0a0a" stroke="#111" stroke-width="0.45"/>
<circle cx="296.30" cy="474.80" r="2.05" fill="#0a0a0a" stroke="#111" stroke-width="0.45"/>
<circle cx="258.40" cy="482.90" r="2.05" fill="#c8961e" stroke="#111" stroke-width="0.45"/>
<circle cx="265.20" cy="484.30" r="2.05" fill="#c8961e" stroke="#111" stroke-width="0.45"/>
<circle cx="268.30" cy="485.70" r="2.05" fill="#c8961e" stroke="#111" stroke-width="0.45"/>
<circle cx="271.80" cy="483.60" r="2.05" fill="#c8961e" stroke="#111" stroke-width="0.45"/>
<circle cx="275.30" cy="485.00" r="2.05" fill="#c8961e" stroke="#111" stroke-width="0.45"/>
<circle cx="270.90" cy="482.90" r="2.05" fill="#c8961e" stroke="#111" stroke-width="0.45"/>
<circle cx="264.80" cy="484.30" r="2.05" fill="#c8961e" stroke="#111" stroke-width="0.45"/>
<circle cx="281.40" cy="493.60" r="2.05" fill="#f06414" stroke="#111" stroke-width="0.45"/>
<circle cx="284.50" cy="495.00" r="2.05" fill="#f06414" stroke="#111" stroke-width="0.45"/>
<circle cx="292.30" cy="496.40" r="2.05" fill="#f06414" stroke="#111" stroke-width="0.45"/>
<circle cx="294.50" cy="494.30" r="2.05" fill="#f06414" stroke="#111" stroke-width="0.45"/>
<circle cx="296.30" cy="495.70" r="2.05" fill="#f06414" stroke="#111" stroke-width="0.45"/>
<circle cx="292.80" cy="493.60" r="2.05" fill="#f06414" stroke="#111" stroke-width="0.45"/>
<circle cx="278.30" cy="504.30" r="2.05" fill="#7a35e8" stroke="#111" stroke-width="0.45"/>
<circle cx="280.50" cy="505.70" r="2.05" fill="#7a35e8" stroke="#111" stroke-width="0.45"/>
<circle cx="282.30" cy="507.10" r="2.05" fill="#7a35e8" stroke="#111" stroke-width="0.45"/>
<circle cx="285.80" cy="505.00" r="2.05" fill="#7a35e8" stroke="#111" stroke-width="0.45"/>
<circle cx="283.10" cy="506.40" r="2.05" fill="#7a35e8" stroke="#111" stroke-width="0.45"/>
<circle cx="274.00" cy="515.20" r="2.05" fill="#1ea0f0" stroke="#111" stroke-width="0.45"/>
<circle cx="276.10" cy="516.60" r="2.05" fill="#1ea0f0" stroke="#111" stroke-width="0.45"/>
<circle cx="277.90" cy="518.00" r="2.05" fill="#1ea0f0" stroke="#111" stroke-width="0.45"/>
<circle cx="282.30" cy="515.90" r="2.05" fill="#1ea0f0" stroke="#111" stroke-width="0.45"/>
<circle cx="291.90" cy="517.30" r="2.05" fill="#1ea0f0" stroke="#111" stroke-width="0.45"/>
<circle cx="293.70" cy="515.20" r="2.05" fill="#1ea0f0" stroke="#111" stroke-width="0.45"/>
<circle cx="274.80" cy="516.60" r="2.05" fill="#1ea0f0" stroke="#111" stroke-width="0.45"/>
<line x1="258.20" y1="466.00" x2="258.20" y2="523.70" stroke="#222" stroke-width="1"/>
<line x1="258.20" y1="523.70" x2="315.80" y2="523.70" stroke="#222" stroke-width="1"/>
<line x1="255.60" y1="473.40" x2="258.20" y2="473.40" stroke="#222" stroke-width="0.9"/>
<line x1="255.60" y1="484.30" x2="258.20" y2="484.30" stroke="#222" stroke-width="0.9"/>
<line x1="255.60" y1="495.00" x2="258.20" y2="495.00" stroke="#222" stroke-width="0.9"/>
<line x1="255.60" y1="505.70" x2="258.20" y2="505.70" stroke="#222" stroke-width="0.9"/>
<line x1="255.60" y1="516.60" x2="258.20" y2="516.60" stroke="#222" stroke-width="0.9"/>
<line x1="258.20" y1="523.70" x2="258.20" y2="526.40" stroke="#222" stroke-width="0.9"/>
<text x="258.20" y="534.90" font-size="7.6" text-anchor="middle" fill="#222" stroke="#222">0</text>
<line x1="287.00" y1="523.70" x2="287.00" y2="526.40" stroke="#222" stroke-width="0.9"/>
<text x="287.00" y="534.90" font-size="7.6" text-anchor="middle" fill="#222" stroke="#222">0.1</text>
<line x1="315.80" y1="523.70" x2="315.80" y2="526.40" stroke="#222" stroke-width="0.9"/>
<text x="315.80" y="534.90" font-size="7.6" text-anchor="middle" fill="#222" stroke="#222">0.2</text>
<text x="287.00" y="464.60" font-size="11.8" text-anchor="middle" font-style="italic" fill="#000" stroke="#000">Cpne1</text>
<line x1="317.40" y1="473.20" x2="317.40" y2="482.60" stroke="#333" stroke-width="1"/>
<circle cx="321.80" cy="473.10" r="1.15" fill="#000" stroke="none" stroke-width="1"/>
<circle cx="321.80" cy="476.30" r="1.15" fill="#000" stroke="none" stroke-width="1"/>
<circle cx="321.80" cy="479.50" r="1.15" fill="#000" stroke="none" stroke-width="1"/>
<circle cx="321.80" cy="482.70" r="1.15" fill="#000" stroke="none" stroke-width="1"/>
<line x1="317.40" y1="485.40" x2="317.40" y2="505.70" stroke="#333" stroke-width="1"/>
<circle cx="321.80" cy="493.95" r="1.15" fill="#000" stroke="none" stroke-width="1"/>
<circle cx="321.80" cy="497.15" r="1.15" fill="#000" stroke="none" stroke-width="1"/>
<line x1="329.60" y1="484.20" x2="329.60" y2="495.10" stroke="#aaa" stroke-width="1"/>
<circle cx="334.00" cy="484.85" r="1.15" fill="#000" stroke="none" stroke-width="1"/>
<circle cx="334.00" cy="488.05" r="1.15" fill="#000" stroke="none" stroke-width="1"/>
<circle cx="334.00" cy="491.25" r="1.15" fill="#000" stroke="none" stroke-width="1"/>
<circle cx="334.00" cy="494.45" r="1.15" fill="#000" stroke="none" stroke-width="1"/>
<line x1="342.00" y1="473.20" x2="342.00" y2="505.70" stroke="#aaa" stroke-width="1"/>
<circle cx="346.40" cy="486.25" r="1.15" fill="#000" stroke="none" stroke-width="1"/>
<circle cx="346.40" cy="489.45" r="1.15" fill="#000" stroke="none" stroke-width="1"/>
<circle cx="346.40" cy="492.65" r="1.15" fill="#000" stroke="none" stroke-width="1"/>
<line x1="354.50" y1="484.20" x2="354.50" y2="516.60" stroke="#444" stroke-width="1"/>
<circle cx="358.90" cy="498.80" r="1.15" fill="#000" stroke="none" stroke-width="1"/>
<circle cx="358.90" cy="502.00" r="1.15" fill="#000" stroke="none" stroke-width="1"/>
<line x1="366.50" y1="473.20" x2="366.50" y2="516.60" stroke="#555" stroke-width="1"/>
<circle cx="370.90" cy="490.10" r="1.15" fill="#000" stroke="none" stroke-width="1"/>
<circle cx="370.90" cy="493.30" r="1.15" fill="#000" stroke="none" stroke-width="1"/>
<circle cx="370.90" cy="496.50" r="1.15" fill="#000" stroke="none" stroke-width="1"/>
<circle cx="370.90" cy="499.70" r="1.15" fill="#000" stroke="none" stroke-width="1"/>
<line x1="381.70" y1="473.40" x2="439.30" y2="473.40" stroke="#d4d4d4" stroke-width="0.8"/>
<line x1="381.70" y1="484.30" x2="439.30" y2="484.30" stroke="#d4d4d4" stroke-width="0.8"/>
<line x1="381.70" y1="495.00" x2="439.30" y2="495.00" stroke="#d4d4d4" stroke-width="0.8"/>
<line x1="381.70" y1="505.70" x2="439.30" y2="505.70" stroke="#d4d4d4" stroke-width="0.8"/>
<line x1="381.70" y1="516.60" x2="439.30" y2="516.60" stroke="#d4d4d4" stroke-width="0.8"/>
<path d="M407.00,505.40 Q412.00,504.70 415.00,503.80 Q418.00,502.90 421.50,502.90 Q425.00,502.90 427.50,503.55 Q430.00,504.20 432.25,504.80 Q434.50,505.40 434.50,505.70 Q434.50,506.00 432.25,506.60 Q430.00,507.20 427.50,507.85 Q425.00,508.50 421.50,508.50 Q418.00,508.50 415.00,507.60 Q412.00,506.70 409.50,506.35 Q407.00,506.00 407.00,505.70 Z" fill="#b9a2f2" stroke="#6040b0" stroke-width="0.45"/>
<path d="M402.00,516.30 Q404.00,514.60 406.50,515.10 Q409.00,515.60 411.50,515.50 Q414.00,515.40 416.50,514.50 Q419.00,513.60 422.75,514.35 Q426.50,515.10 427.00,515.75 Q427.50,516.40 427.50,516.60 Q427.50,516.80 427.00,517.45 Q426.50,518.10 422.75,518.85 Q419.00,519.60 416.50,518.70 Q414.00,517.80 411.50,517.70 Q409.00,517.60 406.50,518.10 Q404.00,518.60 403.00,517.75 Q402.00,516.90 402.00,516.60 Z" fill="#a9cdf5" stroke="#3070b0" stroke-width="0.45"/>
<circle cx="422.00" cy="472.00" r="2.05" fill="#0a0a0a" stroke="#111" stroke-width="0.45"/>
<circle cx="423.80" cy="473.40" r="2.05" fill="#0a0a0a" stroke="#111" stroke-width="0.45"/>
<circle cx="424.70" cy="474.80" r="2.05" fill="#0a0a0a" stroke="#111" stroke-width="0.45"/>
<circle cx="429.90" cy="472.70" r="2.05" fill="#0a0a0a" stroke="#111" stroke-width="0.45"/>
<circle cx="431.70" cy="474.10" r="2.05" fill="#0a0a0a" stroke="#111" stroke-width="0.45"/>
<circle cx="433.00" cy="472.00" r="2.05" fill="#0a0a0a" stroke="#111" stroke-width="0.45"/>
<circle cx="431.20" cy="473.40" r="2.05" fill="#0a0a0a" stroke="#111" stroke-width="0.45"/>
<circle cx="420.70" cy="482.90" r="2.05" fill="#c8961e" stroke="#111" stroke-width="0.45"/>
<circle cx="424.70" cy="484.30" r="2.05" fill="#c8961e" stroke="#111" stroke-width="0.45"/>
<circle cx="426.40" cy="485.70" r="2.05" fill="#c8961e" stroke="#111" stroke-width="0.45"/>
<circle cx="427.30" cy="483.60" r="2.05" fill="#c8961e" stroke="#111" stroke-width="0.45"/>
<circle cx="431.70" cy="485.00" r="2.05" fill="#c8961e" stroke="#111" stroke-width="0.45"/>
<circle cx="425.50" cy="482.90" r="2.05" fill="#c8961e" stroke="#111" stroke-width="0.45"/>
<circle cx="416.30" cy="493.60" r="2.05" fill="#f06414" stroke="#111" stroke-width="0.45"/>
<circle cx="418.50" cy="495.00" r="2.05" fill="#f06414" stroke="#111" stroke-width="0.45"/>
<circle cx="421.20" cy="496.40" r="2.05" fill="#f06414" stroke="#111" stroke-width="0.45"/>
<circle cx="426.40" cy="494.30" r="2.05" fill="#f06414" stroke="#111" stroke-width="0.45"/>
<circle cx="419.40" cy="495.70" r="2.05" fill="#f06414" stroke="#111" stroke-width="0.45"/>
<circle cx="408.00" cy="504.30" r="2.05" fill="#7a35e8" stroke="#111" stroke-width="0.45"/>
<circle cx="419.40" cy="505.70" r="2.05" fill="#7a35e8" stroke="#111" stroke-width="0.45"/>
<circle cx="420.30" cy="507.10" r="2.05" fill="#7a35e8" stroke="#111" stroke-width="0.45"/>
<circle cx="423.80" cy="505.00" r="2.05" fill="#7a35e8" stroke="#111" stroke-width="0.45"/>
<circle cx="425.50" cy="506.40" r="2.05" fill="#7a35e8" stroke="#111" stroke-width="0.45"/>
<circle cx="433.40" cy="504.30" r="2.05" fill="#7a35e8" stroke="#111" stroke-width="0.45"/>
<circle cx="422.00" cy="505.70" r="2.05" fill="#7a35e8" stroke="#111" stroke-width="0.45"/>
<circle cx="402.80" cy="515.20" r="2.05" fill="#1ea0f0" stroke="#111" stroke-width="0.45"/>
<circle cx="405.80" cy="516.60" r="2.05" fill="#1ea0f0" stroke="#111" stroke-width="0.45"/>
<circle cx="415.00" cy="518.00" r="2.05" fill="#1ea0f0" stroke="#111" stroke-width="0.45"/>
<circle cx="420.30" cy="515.90" r="2.05" fill="#1ea0f0" stroke="#111" stroke-width="0.45"/>
<circle cx="422.00" cy="517.30" r="2.05" fill="#1ea0f0" stroke="#111" stroke-width="0.45"/>
<circle cx="423.80" cy="515.20" r="2.05" fill="#1ea0f0" stroke="#111" stroke-width="0.45"/>
<circle cx="425.50" cy="516.60" r="2.05" fill="#1ea0f0" stroke="#111" stroke-width="0.45"/>
<line x1="381.70" y1="466.00" x2="381.70" y2="523.70" stroke="#222" stroke-width="1"/>
<line x1="381.70" y1="523.70" x2="439.30" y2="523.70" stroke="#222" stroke-width="1"/>
<line x1="379.10" y1="473.40" x2="381.70" y2="473.40" stroke="#222" stroke-width="0.9"/>
<line x1="379.10" y1="484.30" x2="381.70" y2="484.30" stroke="#222" stroke-width="0.9"/>
<line x1="379.10" y1="495.00" x2="381.70" y2="495.00" stroke="#222" stroke-width="0.9"/>
<line x1="379.10" y1="505.70" x2="381.70" y2="505.70" stroke="#222" stroke-width="0.9"/>
<line x1="379.10" y1="516.60" x2="381.70" y2="516.60" stroke="#222" stroke-width="0.9"/>
<line x1="381.70" y1="523.70" x2="381.70" y2="526.40" stroke="#222" stroke-width="0.9"/>
<text x="381.70" y="534.90" font-size="7.6" text-anchor="middle" fill="#222" stroke="#222">0.00</text>
<line x1="410.50" y1="523.70" x2="410.50" y2="526.40" stroke="#222" stroke-width="0.9"/>
<text x="410.50" y="534.90" font-size="7.6" text-anchor="middle" fill="#222" stroke="#222">0.25</text>
<line x1="439.30" y1="523.70" x2="439.30" y2="526.40" stroke="#222" stroke-width="0.9"/>
<text x="439.30" y="534.90" font-size="7.6" text-anchor="middle" fill="#222" stroke="#222">0.50</text>
<text x="410.50" y="464.60" font-size="11.8" text-anchor="middle" font-style="italic" fill="#000" stroke="#000">Med12</text>
<line x1="441.50" y1="473.40" x2="441.50" y2="516.60" stroke="#444" stroke-width="1"/>
<circle cx="445.90" cy="495.00" r="1.15" fill="#000" stroke="none" stroke-width="1"/>
<line x1="146.90" y1="567.50" x2="204.50" y2="567.50" stroke="#d4d4d4" stroke-width="0.8"/>
<line x1="146.90" y1="578.40" x2="204.50" y2="578.40" stroke="#d4d4d4" stroke-width="0.8"/>
<line x1="146.90" y1="589.30" x2="204.50" y2="589.30" stroke="#d4d4d4" stroke-width="0.8"/>
<line x1="146.90" y1="600.30" x2="204.50" y2="600.30" stroke="#d4d4d4" stroke-width="0.8"/>
<line x1="146.90" y1="611.20" x2="204.50" y2="611.20" stroke="#d4d4d4" stroke-width="0.8"/>
<path d="M147.00,600.00 Q150.00,599.80 154.00,599.70 Q158.00,599.60 160.50,599.15 Q163.00,598.70 165.00,598.00 Q167.00,597.30 169.50,597.05 Q172.00,596.80 176.00,596.85 Q180.00,596.90 183.00,597.00 Q186.00,597.10 186.75,598.55 Q187.50,600.00 187.50,600.30 Q187.50,600.60 186.75,602.05 Q186.00,603.50 183.00,603.60 Q180.00,603.70 176.00,603.75 Q172.00,603.80 169.50,603.55 Q167.00,603.30 165.00,602.60 Q163.00,601.90 160.50,601.45 Q158.00,601.00 154.00,600.90 Q150.00,600.80 148.50,600.70 Q147.00,600.60 147.00,600.30 Z" fill="#b9a2f2" stroke="#6040b0" stroke-width="0.45"/>
<path d="M152.00,610.90 Q156.00,610.20 159.50,610.20 Q163.00,610.20 165.50,609.50 Q168.00,608.80 171.50,608.60 Q175.00,608.40 177.00,609.20 Q179.00,610.00 179.25,610.50 Q179.50,611.00 179.50,611.20 Q179.50,611.40 179.25,611.90 Q179.00,612.40 177.00,613.20 Q175.00,614.00 171.50,613.80 Q168.00,613.60 165.50,612.90 Q163.00,612.20 159.50,612.20 Q156.00,612.20 154.00,611.85 Q152.00,611.50 152.00,611.20 Z" fill="#a9cdf5" stroke="#3070b0" stroke-width="0.45"/>
<circle cx="180.00" cy="566.10" r="2.05" fill="#0a0a0a" stroke="#111" stroke-width="0.45"/>
<circle cx="181.80" cy="567.50" r="2.05" fill="#0a0a0a" stroke="#111" stroke-width="0.45"/>
<circle cx="184.40" cy="568.90" r="2.05" fill="#0a0a0a" stroke="#111" stroke-width="0.45"/>
<circle cx="186.20" cy="566.80" r="2.05" fill="#0a0a0a" stroke="#111" stroke-width="0.45"/>
<circle cx="182.70" cy="568.20" r="2.05" fill="#0a0a0a" stroke="#111" stroke-width="0.45"/>
<circle cx="187.00" cy="566.10" r="2.05" fill="#0a0a0a" stroke="#111" stroke-width="0.45"/>
<circle cx="180.00" cy="577.00" r="2.05" fill="#c8961e" stroke="#111" stroke-width="0.45"/>
<circle cx="180.90" cy="578.40" r="2.05" fill="#c8961e" stroke="#111" stroke-width="0.45"/>
<circle cx="183.50" cy="579.80" r="2.05" fill="#c8961e" stroke="#111" stroke-width="0.45"/>
<circle cx="188.80" cy="577.70" r="2.05" fill="#c8961e" stroke="#111" stroke-width="0.45"/>
<circle cx="191.40" cy="579.10" r="2.05" fill="#c8961e" stroke="#111" stroke-width="0.45"/>
<circle cx="181.80" cy="577.00" r="2.05" fill="#c8961e" stroke="#111" stroke-width="0.45"/>
<circle cx="180.90" cy="587.90" r="2.05" fill="#f06414" stroke="#111" stroke-width="0.45"/>
<circle cx="183.50" cy="589.30" r="2.05" fill="#f06414" stroke="#111" stroke-width="0.45"/>
<circle cx="186.20" cy="590.70" r="2.05" fill="#f06414" stroke="#111" stroke-width="0.45"/>
<circle cx="185.30" cy="588.60" r="2.05" fill="#f06414" stroke="#111" stroke-width="0.45"/>
<circle cx="181.80" cy="590.00" r="2.05" fill="#f06414" stroke="#111" stroke-width="0.45"/>
<circle cx="147.60" cy="598.90" r="2.05" fill="#7a35e8" stroke="#111" stroke-width="0.45"/>
<circle cx="168.20" cy="600.30" r="2.05" fill="#7a35e8" stroke="#111" stroke-width="0.45"/>
<circle cx="168.60" cy="601.70" r="2.05" fill="#7a35e8" stroke="#111" stroke-width="0.45"/>
<circle cx="177.00" cy="599.60" r="2.05" fill="#7a35e8" stroke="#111" stroke-width="0.45"/>
<circle cx="181.80" cy="601.00" r="2.05" fill="#7a35e8" stroke="#111" stroke-width="0.45"/>
<circle cx="185.70" cy="598.90" r="2.05" fill="#7a35e8" stroke="#111" stroke-width="0.45"/>
<circle cx="171.30" cy="600.30" r="2.05" fill="#7a35e8" stroke="#111" stroke-width="0.45"/>
<circle cx="153.30" cy="609.80" r="2.05" fill="#1ea0f0" stroke="#111" stroke-width="0.45"/>
<circle cx="159.40" cy="611.20" r="2.05" fill="#1ea0f0" stroke="#111" stroke-width="0.45"/>
<circle cx="170.00" cy="612.60" r="2.05" fill="#1ea0f0" stroke="#111" stroke-width="0.45"/>
<circle cx="173.00" cy="610.50" r="2.05" fill="#1ea0f0" stroke="#111" stroke-width="0.45"/>
<circle cx="175.60" cy="611.90" r="2.05" fill="#1ea0f0" stroke="#111" stroke-width="0.45"/>
<circle cx="177.40" cy="609.80" r="2.05" fill="#1ea0f0" stroke="#111" stroke-width="0.45"/>
<circle cx="177.80" cy="611.20" r="2.05" fill="#1ea0f0" stroke="#111" stroke-width="0.45"/>
<line x1="146.90" y1="559.50" x2="146.90" y2="618.00" stroke="#222" stroke-width="1"/>
<line x1="146.90" y1="618.00" x2="204.50" y2="618.00" stroke="#222" stroke-width="1"/>
<line x1="144.30" y1="567.50" x2="146.90" y2="567.50" stroke="#222" stroke-width="0.9"/>
<line x1="144.30" y1="578.40" x2="146.90" y2="578.40" stroke="#222" stroke-width="0.9"/>
<line x1="144.30" y1="589.30" x2="146.90" y2="589.30" stroke="#222" stroke-width="0.9"/>
<line x1="144.30" y1="600.30" x2="146.90" y2="600.30" stroke="#222" stroke-width="0.9"/>
<line x1="144.30" y1="611.20" x2="146.90" y2="611.20" stroke="#222" stroke-width="0.9"/>
<line x1="146.90" y1="618.00" x2="146.90" y2="620.70" stroke="#222" stroke-width="0.9"/>
<text x="146.90" y="629.20" font-size="7.6" text-anchor="middle" fill="#222" stroke="#222">0.0</text>
<line x1="161.30" y1="618.00" x2="161.30" y2="620.70" stroke="#222" stroke-width="0.9"/>
<text x="161.30" y="629.20" font-size="7.6" text-anchor="middle" fill="#222" stroke="#222">0.1</text>
<line x1="175.70" y1="618.00" x2="175.70" y2="620.70" stroke="#222" stroke-width="0.9"/>
<text x="175.70" y="629.20" font-size="7.6" text-anchor="middle" fill="#222" stroke="#222">0.2</text>
<line x1="190.10" y1="618.00" x2="190.10" y2="620.70" stroke="#222" stroke-width="0.9"/>
<text x="190.10" y="629.20" font-size="7.6" text-anchor="middle" fill="#222" stroke="#222">0.3</text>
<line x1="204.50" y1="618.00" x2="204.50" y2="620.70" stroke="#222" stroke-width="0.9"/>
<text x="204.50" y="629.20" font-size="7.6" text-anchor="middle" fill="#222" stroke="#222">0.4</text>
<text x="175.70" y="558.90" font-size="11.8" text-anchor="middle" font-style="italic" fill="#000" stroke="#000">Dpagt1</text>
<line x1="210.60" y1="567.50" x2="210.60" y2="611.20" stroke="#444" stroke-width="1"/>
<circle cx="215.00" cy="589.35" r="1.15" fill="#000" stroke="none" stroke-width="1"/>
<line x1="222.50" y1="589.30" x2="222.50" y2="611.20" stroke="#555" stroke-width="1"/>
<circle cx="226.90" cy="600.25" r="1.15" fill="#000" stroke="none" stroke-width="1"/>
<line x1="234.80" y1="578.40" x2="234.80" y2="611.20" stroke="#777" stroke-width="1"/>
<circle cx="239.20" cy="594.80" r="1.15" fill="#000" stroke="none" stroke-width="1"/>
<line x1="258.20" y1="567.50" x2="315.40" y2="567.50" stroke="#d4d4d4" stroke-width="0.8"/>
<line x1="258.20" y1="578.40" x2="315.40" y2="578.40" stroke="#d4d4d4" stroke-width="0.8"/>
<line x1="258.20" y1="589.30" x2="315.40" y2="589.30" stroke="#d4d4d4" stroke-width="0.8"/>
<line x1="258.20" y1="600.30" x2="315.40" y2="600.30" stroke="#d4d4d4" stroke-width="0.8"/>
<line x1="258.20" y1="611.20" x2="315.40" y2="611.20" stroke="#d4d4d4" stroke-width="0.8"/>
<path d="M290.00,567.30 Q296.00,567.00 298.00,566.35 Q300.00,565.70 302.00,565.30 Q304.00,564.90 305.75,566.05 Q307.50,567.20 307.50,567.50 Q307.50,567.80 305.75,568.95 Q304.00,570.10 302.00,569.70 Q300.00,569.30 298.00,568.65 Q296.00,568.00 293.00,567.85 Q290.00,567.70 290.00,567.50 Z" fill="#bbbbbb" stroke="#444" stroke-width="0.45"/>
<path d="M289.50,589.00 Q291.00,587.70 295.50,587.50 Q300.00,587.30 304.00,586.90 Q308.00,586.50 310.50,587.00 Q313.00,587.50 313.40,588.30 Q313.80,589.10 313.80,589.30 Q313.80,589.50 313.40,590.30 Q313.00,591.10 310.50,591.60 Q308.00,592.10 304.00,591.70 Q300.00,591.30 295.50,591.10 Q291.00,590.90 290.25,590.25 Q289.50,589.60 289.50,589.30 Z" fill="#f8bf9c" stroke="#b86030" stroke-width="0.45"/>
<path d="M278.60,600.00 Q279.20,596.70 282.60,597.30 Q286.00,597.90 289.75,598.70 Q293.50,599.50 297.25,598.70 Q301.00,597.90 304.40,597.30 Q307.80,596.70 308.10,598.35 Q308.40,600.00 308.40,600.30 Q308.40,600.60 308.10,602.25 Q307.80,603.90 304.40,603.30 Q301.00,602.70 297.25,601.90 Q293.50,601.10 289.75,601.90 Q286.00,602.70 282.60,603.30 Q279.20,603.90 278.90,602.25 Q278.60,600.60 278.60,600.30 Z" fill="#b9a2f2" stroke="#6040b0" stroke-width="0.45"/>
<path d="M259.50,610.90 Q262.00,609.00 267.00,608.90 Q272.00,608.80 277.00,609.00 Q282.00,609.20 284.50,609.80 Q287.00,610.40 289.00,610.75 Q291.00,611.10 291.00,611.20 Q291.00,611.30 289.00,611.65 Q287.00,612.00 284.50,612.60 Q282.00,613.20 277.00,613.40 Q272.00,613.60 267.00,613.50 Q262.00,613.40 260.75,612.45 Q259.50,611.50 259.50,611.20 Z" fill="#a9cdf5" stroke="#3070b0" stroke-width="0.45"/>
<circle cx="290.60" cy="566.10" r="2.05" fill="#0a0a0a" stroke="#111" stroke-width="0.45"/>
<circle cx="298.00" cy="567.50" r="2.05" fill="#0a0a0a" stroke="#111" stroke-width="0.45"/>
<circle cx="301.50" cy="568.90" r="2.05" fill="#0a0a0a" stroke="#111" stroke-width="0.45"/>
<circle cx="303.70" cy="566.80" r="2.05" fill="#0a0a0a" stroke="#111" stroke-width="0.45"/>
<circle cx="305.00" cy="568.20" r="2.05" fill="#0a0a0a" stroke="#111" stroke-width="0.45"/>
<circle cx="305.90" cy="566.10" r="2.05" fill="#0a0a0a" stroke="#111" stroke-width="0.45"/>
<circle cx="304.20" cy="567.50" r="2.05" fill="#0a0a0a" stroke="#111" stroke-width="0.45"/>
<circle cx="306.80" cy="568.90" r="2.05" fill="#0a0a0a" stroke="#111" stroke-width="0.45"/>
<circle cx="298.90" cy="577.00" r="2.05" fill="#c8961e" stroke="#111" stroke-width="0.45"/>
<circle cx="301.10" cy="578.40" r="2.05" fill="#c8961e" stroke="#111" stroke-width="0.45"/>
<circle cx="303.70" cy="579.80" r="2.05" fill="#c8961e" stroke="#111" stroke-width="0.45"/>
<circle cx="300.20" cy="577.70" r="2.05" fill="#c8961e" stroke="#111" stroke-width="0.45"/>
<circle cx="291.50" cy="587.90" r="2.05" fill="#f06414" stroke="#111" stroke-width="0.45"/>
<circle cx="294.10" cy="589.30" r="2.05" fill="#f06414" stroke="#111" stroke-width="0.45"/>
<circle cx="301.10" cy="590.70" r="2.05" fill="#f06414" stroke="#111" stroke-width="0.45"/>
<circle cx="305.50" cy="588.60" r="2.05" fill="#f06414" stroke="#111" stroke-width="0.45"/>
<circle cx="310.70" cy="590.00" r="2.05" fill="#f06414" stroke="#111" stroke-width="0.45"/>
<circle cx="307.70" cy="587.90" r="2.05" fill="#f06414" stroke="#111" stroke-width="0.45"/>
<circle cx="280.50" cy="598.50" r="2.05" fill="#7a35e8" stroke="#111" stroke-width="0.45"/>
<circle cx="281.00" cy="602.10" r="2.05" fill="#7a35e8" stroke="#111" stroke-width="0.45"/>
<circle cx="288.00" cy="601.70" r="2.05" fill="#7a35e8" stroke="#111" stroke-width="0.45"/>
<circle cx="298.90" cy="599.60" r="2.05" fill="#7a35e8" stroke="#111" stroke-width="0.45"/>
<circle cx="306.40" cy="598.50" r="2.05" fill="#7a35e8" stroke="#111" stroke-width="0.45"/>
<circle cx="306.80" cy="602.10" r="2.05" fill="#7a35e8" stroke="#111" stroke-width="0.45"/>
<circle cx="262.60" cy="609.80" r="2.05" fill="#1ea0f0" stroke="#111" stroke-width="0.45"/>
<circle cx="264.80" cy="611.20" r="2.05" fill="#1ea0f0" stroke="#111" stroke-width="0.45"/>
<circle cx="271.80" cy="612.60" r="2.05" fill="#1ea0f0" stroke="#111" stroke-width="0.45"/>
<circle cx="273.50" cy="610.50" r="2.05" fill="#1ea0f0" stroke="#111" stroke-width="0.45"/>
<circle cx="279.20" cy="611.90" r="2.05" fill="#1ea0f0" stroke="#111" stroke-width="0.45"/>
<circle cx="282.30" cy="609.80" r="2.05" fill="#1ea0f0" stroke="#111" stroke-width="0.45"/>
<circle cx="263.90" cy="611.20" r="2.05" fill="#1ea0f0" stroke="#111" stroke-width="0.45"/>
<line x1="258.20" y1="559.50" x2="258.20" y2="618.00" stroke="#222" stroke-width="1"/>
<line x1="258.20" y1="618.00" x2="315.40" y2="618.00" stroke="#222" stroke-width="1"/>
<line x1="255.60" y1="567.50" x2="258.20" y2="567.50" stroke="#222" stroke-width="0.9"/>
<line x1="255.60" y1="578.40" x2="258.20" y2="578.40" stroke="#222" stroke-width="0.9"/>
<line x1="255.60" y1="589.30" x2="258.20" y2="589.30" stroke="#222" stroke-width="0.9"/>
<line x1="255.60" y1="600.30" x2="258.20" y2="600.30" stroke="#222" stroke-width="0.9"/>
<line x1="255.60" y1="611.20" x2="258.20" y2="611.20" stroke="#222" stroke-width="0.9"/>
<line x1="258.20" y1="618.00" x2="258.20" y2="620.70" stroke="#222" stroke-width="0.9"/>
<text x="258.20" y="629.20" font-size="7.6" text-anchor="middle" fill="#222" stroke="#222">0.0</text>
<line x1="277.27" y1="618.00" x2="277.27" y2="620.70" stroke="#222" stroke-width="0.9"/>
<text x="277.27" y="629.20" font-size="7.6" text-anchor="middle" fill="#222" stroke="#222">0.1</text>
<line x1="296.33" y1="618.00" x2="296.33" y2="620.70" stroke="#222" stroke-width="0.9"/>
<text x="296.33" y="629.20" font-size="7.6" text-anchor="middle" fill="#222" stroke="#222">0.2</text>
<line x1="315.40" y1="618.00" x2="315.40" y2="620.70" stroke="#222" stroke-width="0.9"/>
<text x="315.40" y="629.20" font-size="7.6" text-anchor="middle" fill="#222" stroke="#222">0.3</text>
<text x="286.80" y="558.90" font-size="11.8" text-anchor="middle" font-style="italic" fill="#000" stroke="#000">Aatf</text>
<line x1="319.40" y1="600.30" x2="319.40" y2="611.20" stroke="#333" stroke-width="1"/>
<circle cx="323.80" cy="602.55" r="1.15" fill="#000" stroke="none" stroke-width="1"/>
<circle cx="323.80" cy="605.75" r="1.15" fill="#000" stroke="none" stroke-width="1"/>
<circle cx="323.80" cy="608.95" r="1.15" fill="#000" stroke="none" stroke-width="1"/>
<line x1="331.10" y1="589.30" x2="331.10" y2="611.20" stroke="#444" stroke-width="1"/>
<circle cx="335.50" cy="595.45" r="1.15" fill="#000" stroke="none" stroke-width="1"/>
<circle cx="335.50" cy="598.65" r="1.15" fill="#000" stroke="none" stroke-width="1"/>
<circle cx="335.50" cy="601.85" r="1.15" fill="#000" stroke="none" stroke-width="1"/>
<circle cx="335.50" cy="605.05" r="1.15" fill="#000" stroke="none" stroke-width="1"/>
<line x1="343.40" y1="578.40" x2="343.40" y2="611.20" stroke="#555" stroke-width="1"/>
<circle cx="347.80" cy="590.00" r="1.15" fill="#000" stroke="none" stroke-width="1"/>
<circle cx="347.80" cy="593.20" r="1.15" fill="#000" stroke="none" stroke-width="1"/>
<circle cx="347.80" cy="596.40" r="1.15" fill="#000" stroke="none" stroke-width="1"/>
<circle cx="347.80" cy="599.60" r="1.15" fill="#000" stroke="none" stroke-width="1"/>
<line x1="355.60" y1="567.50" x2="355.60" y2="611.20" stroke="#888" stroke-width="1"/>
<circle cx="360.00" cy="584.55" r="1.15" fill="#000" stroke="none" stroke-width="1"/>
<circle cx="360.00" cy="587.75" r="1.15" fill="#000" stroke="none" stroke-width="1"/>
<circle cx="360.00" cy="590.95" r="1.15" fill="#000" stroke="none" stroke-width="1"/>
<circle cx="360.00" cy="594.15" r="1.15" fill="#000" stroke="none" stroke-width="1"/>
<line x1="381.70" y1="560.80" x2="439.30" y2="560.80" stroke="#d4d4d4" stroke-width="0.8"/>
<line x1="381.70" y1="571.50" x2="439.30" y2="571.50" stroke="#d4d4d4" stroke-width="0.8"/>
<line x1="381.70" y1="582.40" x2="439.30" y2="582.40" stroke="#d4d4d4" stroke-width="0.8"/>
<line x1="381.70" y1="593.20" x2="439.30" y2="593.20" stroke="#d4d4d4" stroke-width="0.8"/>
<line x1="381.70" y1="604.10" x2="439.30" y2="604.10" stroke="#d4d4d4" stroke-width="0.8"/>
<circle cx="418.00" cy="559.40" r="2.05" fill="#0a0a0a" stroke="#111" stroke-width="0.45"/>
<circle cx="419.50" cy="560.80" r="2.05" fill="#0a0a0a" stroke="#111" stroke-width="0.45"/>
<circle cx="421.00" cy="562.20" r="2.05" fill="#0a0a0a" stroke="#111" stroke-width="0.45"/>
<circle cx="422.50" cy="560.10" r="2.05" fill="#0a0a0a" stroke="#111" stroke-width="0.45"/>
<circle cx="420.00" cy="561.50" r="2.05" fill="#0a0a0a" stroke="#111" stroke-width="0.45"/>
<circle cx="419.00" cy="559.40" r="2.05" fill="#0a0a0a" stroke="#111" stroke-width="0.45"/>
<circle cx="417.70" cy="570.10" r="2.05" fill="#c8961e" stroke="#111" stroke-width="0.45"/>
<circle cx="417.20" cy="571.50" r="2.05" fill="#c8961e" stroke="#111" stroke-width="0.45"/>
<circle cx="419.80" cy="572.90" r="2.05" fill="#c8961e" stroke="#111" stroke-width="0.45"/>
<circle cx="424.70" cy="570.80" r="2.05" fill="#c8961e" stroke="#111" stroke-width="0.45"/>
<circle cx="418.50" cy="572.20" r="2.05" fill="#c8961e" stroke="#111" stroke-width="0.45"/>
<circle cx="417.20" cy="581.00" r="2.05" fill="#f06414" stroke="#111" stroke-width="0.45"/>
<circle cx="419.00" cy="582.40" r="2.05" fill="#f06414" stroke="#111" stroke-width="0.45"/>
<circle cx="421.20" cy="583.80" r="2.05" fill="#f06414" stroke="#111" stroke-width="0.45"/>
<circle cx="420.30" cy="581.70" r="2.05" fill="#f06414" stroke="#111" stroke-width="0.45"/>
<circle cx="418.50" cy="583.10" r="2.05" fill="#f06414" stroke="#111" stroke-width="0.45"/>
<circle cx="416.30" cy="591.80" r="2.05" fill="#7a35e8" stroke="#111" stroke-width="0.45"/>
<circle cx="416.80" cy="593.20" r="2.05" fill="#7a35e8" stroke="#111" stroke-width="0.45"/>
<circle cx="419.00" cy="594.60" r="2.05" fill="#7a35e8" stroke="#111" stroke-width="0.45"/>
<circle cx="421.20" cy="592.50" r="2.05" fill="#7a35e8" stroke="#111" stroke-width="0.45"/>
<circle cx="417.70" cy="593.90" r="2.05" fill="#7a35e8" stroke="#111" stroke-width="0.45"/>
<circle cx="418.50" cy="591.80" r="2.05" fill="#7a35e8" stroke="#111" stroke-width="0.45"/>
<circle cx="415.00" cy="602.70" r="2.05" fill="#1ea0f0" stroke="#111" stroke-width="0.45"/>
<circle cx="416.80" cy="604.10" r="2.05" fill="#1ea0f0" stroke="#111" stroke-width="0.45"/>
<circle cx="419.00" cy="605.50" r="2.05" fill="#1ea0f0" stroke="#111" stroke-width="0.45"/>
<circle cx="421.20" cy="603.40" r="2.05" fill="#1ea0f0" stroke="#111" stroke-width="0.45"/>
<circle cx="418.50" cy="604.80" r="2.05" fill="#1ea0f0" stroke="#111" stroke-width="0.45"/>
<circle cx="415.90" cy="602.70" r="2.05" fill="#1ea0f0" stroke="#111" stroke-width="0.45"/>
<line x1="381.70" y1="553.70" x2="381.70" y2="611.40" stroke="#222" stroke-width="1"/>
<line x1="381.70" y1="611.40" x2="439.30" y2="611.40" stroke="#222" stroke-width="1"/>
<line x1="379.10" y1="560.80" x2="381.70" y2="560.80" stroke="#222" stroke-width="0.9"/>
<line x1="379.10" y1="571.50" x2="381.70" y2="571.50" stroke="#222" stroke-width="0.9"/>
<line x1="379.10" y1="582.40" x2="381.70" y2="582.40" stroke="#222" stroke-width="0.9"/>
<line x1="379.10" y1="593.20" x2="381.70" y2="593.20" stroke="#222" stroke-width="0.9"/>
<line x1="379.10" y1="604.10" x2="381.70" y2="604.10" stroke="#222" stroke-width="0.9"/>
<line x1="381.70" y1="611.40" x2="381.70" y2="614.10" stroke="#222" stroke-width="0.9"/>
<text x="381.70" y="622.60" font-size="7.6" text-anchor="middle" fill="#222" stroke="#222">0.0</text>
<line x1="410.50" y1="611.40" x2="410.50" y2="614.10" stroke="#222" stroke-width="0.9"/>
<text x="410.50" y="622.60" font-size="7.6" text-anchor="middle" fill="#222" stroke="#222">0.5</text>
<line x1="439.30" y1="611.40" x2="439.30" y2="614.10" stroke="#222" stroke-width="0.9"/>
<text x="439.30" y="622.60" font-size="7.6" text-anchor="middle" fill="#222" stroke="#222">1.0</text>
<text x="410.50" y="551.90" font-size="11.8" text-anchor="middle" font-style="italic" fill="#000" stroke="#000">Trp53</text>
<line x1="148.40" y1="656.30" x2="206.40" y2="656.30" stroke="#d4d4d4" stroke-width="0.8"/>
<line x1="148.40" y1="667.10" x2="206.40" y2="667.10" stroke="#d4d4d4" stroke-width="0.8"/>
<line x1="148.40" y1="677.80" x2="206.40" y2="677.80" stroke="#d4d4d4" stroke-width="0.8"/>
<line x1="148.40" y1="688.50" x2="206.40" y2="688.50" stroke="#d4d4d4" stroke-width="0.8"/>
<line x1="148.40" y1="699.20" x2="206.40" y2="699.20" stroke="#d4d4d4" stroke-width="0.8"/>
<line x1="148.40" y1="649.50" x2="148.40" y2="706.50" stroke="#222" stroke-width="1"/>
<line x1="148.40" y1="706.50" x2="206.40" y2="706.50" stroke="#222" stroke-width="1"/>
<line x1="145.80" y1="656.30" x2="148.40" y2="656.30" stroke="#222" stroke-width="0.9"/>
<line x1="145.80" y1="667.10" x2="148.40" y2="667.10" stroke="#222" stroke-width="0.9"/>
<line x1="145.80" y1="677.80" x2="148.40" y2="677.80" stroke="#222" stroke-width="0.9"/>
<line x1="145.80" y1="688.50" x2="148.40" y2="688.50" stroke="#222" stroke-width="0.9"/>
<line x1="145.80" y1="699.20" x2="148.40" y2="699.20" stroke="#222" stroke-width="0.9"/>
<line x1="148.40" y1="706.50" x2="148.40" y2="709.20" stroke="#222" stroke-width="0.9"/>
<text x="148.40" y="717.70" font-size="7.6" text-anchor="middle" fill="#222" stroke="#222">0.0</text>
<line x1="177.40" y1="706.50" x2="177.40" y2="709.20" stroke="#222" stroke-width="0.9"/>
<text x="177.40" y="717.70" font-size="7.6" text-anchor="middle" fill="#222" stroke="#222">0.5</text>
<line x1="206.40" y1="706.50" x2="206.40" y2="709.20" stroke="#222" stroke-width="0.9"/>
<text x="206.40" y="717.70" font-size="7.6" text-anchor="middle" fill="#222" stroke="#222">1.0</text>
<text x="177.40" y="648.10" font-size="11.8" text-anchor="middle" font-style="italic" fill="#000" stroke="#000">Reps1</text>
<ellipse cx="148.60" cy="656.30" rx="2.3" ry="3.4" fill="#0a0a0a" stroke="#111" stroke-width="0.5"/>
<line x1="147.20" y1="655.10" x2="149.80" y2="655.10" stroke="#111" stroke-width="0.3"/>
<line x1="147.20" y1="657.50" x2="149.80" y2="657.50" stroke="#111" stroke-width="0.3"/>
<ellipse cx="148.60" cy="667.10" rx="2.3" ry="3.4" fill="#c8961e" stroke="#111" stroke-width="0.5"/>
<line x1="147.20" y1="665.90" x2="149.80" y2="665.90" stroke="#111" stroke-width="0.3"/>
<line x1="147.20" y1="668.30" x2="149.80" y2="668.30" stroke="#111" stroke-width="0.3"/>
<ellipse cx="148.60" cy="677.80" rx="2.3" ry="3.4" fill="#f06414" stroke="#111" stroke-width="0.5"/>
<line x1="147.20" y1="676.60" x2="149.80" y2="676.60" stroke="#111" stroke-width="0.3"/>
<line x1="147.20" y1="679.00" x2="149.80" y2="679.00" stroke="#111" stroke-width="0.3"/>
<ellipse cx="148.60" cy="688.50" rx="2.3" ry="3.4" fill="#7a35e8" stroke="#111" stroke-width="0.5"/>
<line x1="147.20" y1="687.30" x2="149.80" y2="687.30" stroke="#111" stroke-width="0.3"/>
<line x1="147.20" y1="689.70" x2="149.80" y2="689.70" stroke="#111" stroke-width="0.3"/>
<ellipse cx="148.60" cy="699.20" rx="2.3" ry="3.4" fill="#1ea0f0" stroke="#111" stroke-width="0.5"/>
<line x1="147.20" y1="698.00" x2="149.80" y2="698.00" stroke="#111" stroke-width="0.3"/>
<line x1="147.20" y1="700.40" x2="149.80" y2="700.40" stroke="#111" stroke-width="0.3"/>
<line x1="257.60" y1="656.30" x2="315.60" y2="656.30" stroke="#d4d4d4" stroke-width="0.8"/>
<line x1="257.60" y1="667.10" x2="315.60" y2="667.10" stroke="#d4d4d4" stroke-width="0.8"/>
<line x1="257.60" y1="677.80" x2="315.60" y2="677.80" stroke="#d4d4d4" stroke-width="0.8"/>
<line x1="257.60" y1="688.50" x2="315.60" y2="688.50" stroke="#d4d4d4" stroke-width="0.8"/>
<line x1="257.60" y1="699.20" x2="315.60" y2="699.20" stroke="#d4d4d4" stroke-width="0.8"/>
<line x1="257.60" y1="649.50" x2="257.60" y2="706.50" stroke="#222" stroke-width="1"/>
<line x1="257.60" y1="706.50" x2="315.60" y2="706.50" stroke="#222" stroke-width="1"/>
<line x1="255.00" y1="656.30" x2="257.60" y2="656.30" stroke="#222" stroke-width="0.9"/>
<line x1="255.00" y1="667.10" x2="257.60" y2="667.10" stroke="#222" stroke-width="0.9"/>
<line x1="255.00" y1="677.80" x2="257.60" y2="677.80" stroke="#222" stroke-width="0.9"/>
<line x1="255.00" y1="688.50" x2="257.60" y2="688.50" stroke="#222" stroke-width="0.9"/>
<line x1="255.00" y1="699.20" x2="257.60" y2="699.20" stroke="#222" stroke-width="0.9"/>
<line x1="257.60" y1="706.50" x2="257.60" y2="709.20" stroke="#222" stroke-width="0.9"/>
<text x="257.60" y="717.70" font-size="7.6" text-anchor="middle" fill="#222" stroke="#222">0.0</text>
<line x1="286.60" y1="706.50" x2="286.60" y2="709.20" stroke="#222" stroke-width="0.9"/>
<text x="286.60" y="717.70" font-size="7.6" text-anchor="middle" fill="#222" stroke="#222">0.5</text>
<line x1="315.60" y1="706.50" x2="315.60" y2="709.20" stroke="#222" stroke-width="0.9"/>
<text x="315.60" y="717.70" font-size="7.6" text-anchor="middle" fill="#222" stroke="#222">1.0</text>
<text x="286.60" y="648.10" font-size="11.8" text-anchor="middle" font-style="italic" fill="#000" stroke="#000">Adpgk</text>
<ellipse cx="257.80" cy="656.30" rx="2.3" ry="3.4" fill="#0a0a0a" stroke="#111" stroke-width="0.5"/>
<line x1="256.40" y1="655.10" x2="259.00" y2="655.10" stroke="#111" stroke-width="0.3"/>
<line x1="256.40" y1="657.50" x2="259.00" y2="657.50" stroke="#111" stroke-width="0.3"/>
<ellipse cx="257.80" cy="667.10" rx="2.3" ry="3.4" fill="#c8961e" stroke="#111" stroke-width="0.5"/>
<line x1="256.40" y1="665.90" x2="259.00" y2="665.90" stroke="#111" stroke-width="0.3"/>
<line x1="256.40" y1="668.30" x2="259.00" y2="668.30" stroke="#111" stroke-width="0.3"/>
<ellipse cx="257.80" cy="677.80" rx="2.3" ry="3.4" fill="#f06414" stroke="#111" stroke-width="0.5"/>
<line x1="256.40" y1="676.60" x2="259.00" y2="676.60" stroke="#111" stroke-width="0.3"/>
<line x1="256.40" y1="679.00" x2="259.00" y2="679.00" stroke="#111" stroke-width="0.3"/>
<ellipse cx="257.80" cy="688.50" rx="2.3" ry="3.4" fill="#7a35e8" stroke="#111" stroke-width="0.5"/>
<line x1="256.40" y1="687.30" x2="259.00" y2="687.30" stroke="#111" stroke-width="0.3"/>
<line x1="256.40" y1="689.70" x2="259.00" y2="689.70" stroke="#111" stroke-width="0.3"/>
<ellipse cx="257.80" cy="699.20" rx="2.3" ry="3.4" fill="#1ea0f0" stroke="#111" stroke-width="0.5"/>
<line x1="256.40" y1="698.00" x2="259.00" y2="698.00" stroke="#111" stroke-width="0.3"/>
<line x1="256.40" y1="700.40" x2="259.00" y2="700.40" stroke="#111" stroke-width="0.3"/>
</svg></body></html>
